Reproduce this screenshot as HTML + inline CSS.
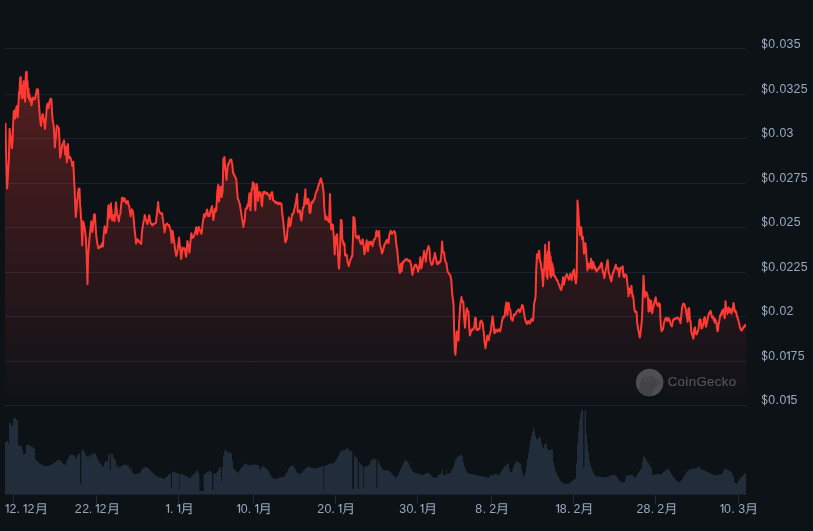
<!DOCTYPE html>
<html><head><meta charset="utf-8"><title>chart</title>
<style>
html,body{margin:0;padding:0;background:#0d1217;}
body{width:813px;height:531px;overflow:hidden;}
svg{display:block;will-change:transform;}
text{font-family:"Liberation Sans",sans-serif;}
</style></head><body>
<svg width="813" height="531" viewBox="0 0 813 531">
<defs><linearGradient id="g" gradientUnits="userSpaceOnUse" x1="0" y1="70" x2="0" y2="394"><stop offset="0" stop-color="#ff3a33" stop-opacity="0.30"/><stop offset="1" stop-color="#ff3a33" stop-opacity="0.015"/></linearGradient><clipPath id="c"><rect x="5" y="40" width="741" height="354"/></clipPath><clipPath id="cg"><circle cx="649.65" cy="382.55" r="13.75"/></clipPath></defs>
<rect width="813" height="531" fill="#0d1217"/>
<rect x="5" y="48" width="741" height="1" fill="#1c2330"/>
<rect x="5" y="94" width="741" height="1" fill="#1c2330"/>
<rect x="5" y="138" width="741" height="1" fill="#1c2330"/>
<rect x="5" y="183" width="741" height="1" fill="#1c2330"/>
<rect x="5" y="227" width="741" height="1" fill="#1c2330"/>
<rect x="5" y="272" width="741" height="1" fill="#1c2330"/>
<rect x="5" y="316" width="741" height="1" fill="#1c2330"/>
<rect x="5" y="361" width="741" height="1" fill="#1c2330"/>
<rect x="5" y="405" width="741" height="1" fill="#1c2330"/>
<g clip-path="url(#c)"><path d="M5,394 L5,124 L5.5,123.72 L6,149.44 L6.37,163.07 L6.73,174.98 L7.1,188.56 L7.46,182.59 L7.82,176.39 L8.18,171.41 L8.54,164.96 L8.9,159.89 L9.25,144.06 L9.6,128.85 L9.95,131.88 L10.3,135.02 L10.64,136.6 L10.98,139.46 L11.32,142.8 L11.66,146.02 L12,148.12 L12.3,143.58 L12.6,140.26 L12.95,128.87 L13.3,120.56 L13.8,111.3 L14.13,110.78 L14.47,110.55 L14.8,110.84 L15.3,118.46 L15.6,113.7 L15.9,111.43 L16.2,108.33 L16.55,106.69 L16.9,106.11 L17.3,111.05 L17.7,117.14 L18.1,110.39 L18.5,104.43 L19,91.83 L19.4,97.7 L19.8,84.14 L20.3,77.43 L20.8,77.18 L21.2,93.47 L21.7,85.32 L22.2,98.59 L22.7,87.12 L23.2,94.04 L23.6,81.2 L24.1,97.37 L24.6,85.66 L25.1,101.77 L25.6,79.39 L26,72.37 L26.35,72.91 L26.7,71.94 L27.1,87.98 L27.5,81.26 L28,97.27 L28.5,88.42 L29,99.12 L29.5,94.6 L29.85,97.2 L30.2,101.31 L30.5,99.65 L30.8,98.13 L31.1,101.43 L31.4,105.54 L31.76,104.11 L32.12,101.76 L32.48,100.46 L32.84,97.9 L33.2,97.48 L33.56,97.85 L33.92,99.18 L34.28,99.27 L34.64,98.48 L35,99.23 L35.32,98.35 L35.63,95.25 L35.95,94.76 L36.27,92.5 L36.58,90.83 L36.9,89.14 L37.2,90.84 L37.5,89.31 L37.8,89.59 L38.1,89.94 L38.4,96.99 L38.7,100.99 L39.03,105.63 L39.35,109.62 L39.67,114.17 L40,117.77 L40.3,120.87 L40.6,122.47 L40.9,125.8 L41.27,122.33 L41.63,120.26 L42,117.1 L42.4,114.56 L42.8,114.02 L43.13,115.79 L43.47,117.43 L43.8,119.66 L44.1,122.24 L44.4,123.78 L44.7,125.48 L45,128.81 L45.4,124.04 L45.8,119.86 L46.13,116.55 L46.47,111.69 L46.8,107.04 L47.15,105.48 L47.5,103.82 L47.8,103.7 L48.1,107.09 L48.4,108.17 L48.8,106.15 L49.2,103.71 L49.5,101.87 L49.8,101.01 L50.1,99.42 L50.4,99.82 L50.73,98.62 L51.07,98.79 L51.4,99.3 L51.7,105.59 L52,112.42 L52.35,116.18 L52.7,120.5 L53,122.16 L53.3,123.34 L53.6,125.27 L53.95,128.86 L54.3,135.3 L54.8,147.47 L55.17,143.09 L55.53,140.07 L55.9,137.03 L56.23,132.81 L56.57,127.96 L56.9,125.44 L57.23,126.78 L57.57,126.52 L57.9,127.56 L58.23,127.24 L58.57,127.91 L58.9,129.12 L59.4,138.84 L59.8,149.64 L60.2,157.76 L60.53,155.46 L60.85,154.87 L61.17,152.12 L61.5,149.43 L61.83,148.17 L62.17,145.44 L62.5,144.34 L62.88,144.19 L63.25,143.13 L63.62,141.99 L64,140.42 L64.3,144.01 L64.6,147.12 L64.9,151.51 L65.2,154.55 L65.6,151.2 L66,146.45 L66.3,150.68 L66.6,157.13 L66.9,162.25 L67.23,155.93 L67.57,149.88 L67.9,144.02 L68.25,151.27 L68.6,157.13 L68.95,158.18 L69.3,157.79 L69.65,156.87 L70,156.99 L70.35,158.17 L70.7,158.48 L71.05,160.24 L71.4,161.46 L71.7,161.33 L72,164.4 L72.3,166.06 L72.63,165.36 L72.97,162.87 L73.3,161.81 L73.8,173.63 L74.2,181.28 L74.6,189.05 L74.9,197.15 L75.2,204.78 L75.5,211.34 L75.8,216.93 L76.17,213.19 L76.55,209.36 L76.92,202.77 L77.3,200.31 L77.63,197.84 L77.97,194.17 L78.3,190.8 L78.6,189.75 L78.9,188.62 L79.2,190.4 L79.5,188.76 L79.8,197.36 L80.1,205.01 L80.42,207.79 L80.75,212.43 L81.08,218.8 L81.4,222.72 L81.8,232.94 L82.2,245.4 L82.6,232.79 L83,221.35 L83.35,222.42 L83.7,222.58 L84.05,224.9 L84.4,226.37 L84.73,228.63 L85.05,230.91 L85.38,234 L85.7,236.11 L86.03,242.02 L86.37,249.65 L86.7,255.24 L87.1,269.29 L87.5,284.19 L87.8,269.14 L88.1,255.59 L88.42,251.57 L88.75,246.64 L89.08,242.75 L89.4,238.87 L89.76,235.34 L90.12,232.46 L90.48,228.49 L90.84,225.31 L91.2,221.41 L91.5,225.11 L91.8,226.67 L92.1,229.28 L92.4,231.93 L92.72,229.01 L93.04,224.79 L93.36,222.15 L93.68,218.04 L94,214.65 L94.3,214.77 L94.6,214.1 L94.9,214.9 L95.2,219.32 L95.5,223.86 L95.8,229.95 L96.1,233.78 L96.42,236.68 L96.75,239.51 L97.08,241.67 L97.4,243.72 L97.7,245.28 L98,246.59 L98.3,248.2 L98.6,248.37 L98.9,248.35 L99.2,247.1 L99.5,246.39 L99.8,246.44 L100.1,246.16 L100.4,246.4 L100.7,246.87 L101,247.26 L101.33,245.61 L101.65,244.98 L101.97,243.91 L102.3,243.02 L102.65,245.06 L103,246.42 L103.5,236.75 L103.8,233.89 L104.1,231.86 L104.4,228.69 L104.7,226.2 L105.03,227.86 L105.35,228.32 L105.67,230.35 L106,233.13 L106.3,231.87 L106.6,228.81 L106.9,227.81 L107.2,227.83 L107.5,220.89 L107.8,215.57 L108.1,209.24 L108.4,205.21 L108.73,210.49 L109.07,215.76 L109.4,218.46 L109.78,215.82 L110.15,211.33 L110.53,205.45 L110.9,203.35 L111.2,208.23 L111.5,210.61 L111.8,217.43 L112.1,220.39 L112.4,219.49 L112.7,219.82 L113,218.17 L113.3,214.98 L113.62,217.29 L113.95,219.05 L114.27,220.02 L114.6,221.09 L114.95,216.51 L115.3,212.77 L115.65,205.71 L116,202.36 L116.33,206.15 L116.67,209.02 L117,214.09 L117.32,215.87 L117.63,216.44 L117.95,215.99 L118.27,219.66 L118.58,219.97 L118.9,221.42 L119.28,217.14 L119.65,215.95 L120.03,214.24 L120.4,213.75 L120.72,209.73 L121.04,206.31 L121.36,203.58 L121.68,201.16 L122,197.81 L122.3,197.84 L122.6,198.59 L122.9,200.75 L123.2,201.11 L123.5,200.57 L123.8,198.84 L124.1,198.04 L124.4,198.3 L124.72,198.8 L125.03,199.15 L125.35,201.45 L125.67,201.88 L125.98,203.07 L126.3,202.83 L126.65,203.44 L127,201.56 L127.35,202.21 L127.7,200.93 L128.02,201.98 L128.34,203.56 L128.66,205.4 L128.98,205.59 L129.3,206.61 L129.62,209.69 L129.95,211.68 L130.28,213.93 L130.6,216.46 L130.9,214.43 L131.2,212.82 L131.5,211.15 L131.8,209.29 L132.1,210.62 L132.4,210.46 L132.7,211.4 L133,211.48 L133.32,215.48 L133.65,218.68 L133.98,222.78 L134.3,226.12 L134.66,230.49 L135.02,233.42 L135.38,236.06 L135.74,239.74 L136.1,243.7 L136.4,241.42 L136.7,241.61 L137,240.04 L137.3,239.19 L137.6,240.06 L137.9,239.68 L138.2,240.19 L138.5,240.8 L138.82,241.69 L139.13,241.08 L139.45,242.28 L139.77,242.5 L140.08,242.8 L140.4,242.85 L140.8,243.61 L141.2,243.99 L141.6,237.66 L142,231.11 L142.37,229.79 L142.73,226.61 L143.1,224.06 L143.42,222.1 L143.74,221.47 L144.06,219.67 L144.38,217.51 L144.7,215.05 L145.07,216.39 L145.45,217.87 L145.82,219.54 L146.2,220.45 L146.5,221.51 L146.8,221.82 L147.1,223.54 L147.4,224.16 L147.76,221.88 L148.12,219.79 L148.48,219.35 L148.84,216.7 L149.2,215.17 L149.52,216.45 L149.85,218.91 L150.18,220.91 L150.5,222.8 L150.86,222.94 L151.22,224.05 L151.58,223.87 L151.94,224.9 L152.3,225.24 L152.66,225.36 L153.02,224.41 L153.38,224 L153.74,224.07 L154.1,223.57 L154.42,223.84 L154.73,223.45 L155.05,223.5 L155.37,223.05 L155.68,222.85 L156,222.81 L156.3,219.22 L156.6,216.32 L156.9,214.58 L157.2,210.44 L157.5,208.59 L157.8,205.7 L158.1,201.97 L158.43,206 L158.77,208.86 L159.1,211.2 L159.4,212 L159.7,212.75 L160,212.3 L160.3,213.54 L160.66,213.39 L161.02,213.8 L161.38,213.63 L161.74,213.54 L162.1,213.03 L162.43,216.2 L162.77,218.53 L163.1,221.21 L163.47,223.39 L163.85,226 L164.22,229.09 L164.6,232.38 L164.9,229.97 L165.2,229.14 L165.5,226.69 L165.8,224.8 L166.12,224.7 L166.43,224.69 L166.75,224.28 L167.07,223.41 L167.38,224.58 L167.7,224.4 L168.06,224.5 L168.42,225.06 L168.78,225.75 L169.14,225.31 L169.5,226.88 L169.82,227.48 L170.15,228.57 L170.48,230.25 L170.8,232.37 L171.1,234.83 L171.4,238.98 L171.7,242.66 L172,238.19 L172.3,234.31 L172.6,230.77 L172.9,233.24 L173.2,235.53 L173.5,237.44 L173.8,239.63 L174.12,241.2 L174.45,243.79 L174.78,246.43 L175.1,249.69 L175.4,250.84 L175.7,253.11 L176,254.07 L176.3,256 L176.6,254.78 L176.9,253.88 L177.2,252.36 L177.5,250.78 L177.82,247.71 L178.14,245.61 L178.46,243.06 L178.78,240.61 L179.1,237.59 L179.4,241.6 L179.7,243.27 L180,247.29 L180.3,250 L180.6,251.59 L180.9,255.37 L181.2,259.01 L181.5,256.62 L181.8,253.17 L182.1,250.25 L182.4,247.54 L182.72,249.04 L183.05,248.19 L183.38,249.11 L183.7,248.73 L184,249.16 L184.3,249.67 L184.6,248.19 L184.9,249.11 L185.2,250.79 L185.5,253.57 L185.8,255.45 L186.1,256.87 L186.43,254.09 L186.75,249.58 L187.07,244.99 L187.4,241.11 L187.7,242.81 L188,243.67 L188.3,244.36 L188.6,245.03 L189,249.05 L189.4,252.71 L189.73,249.84 L190.07,244.8 L190.4,242.3 L190.73,239.34 L191.07,235.09 L191.4,233.28 L191.7,234.81 L192,236.98 L192.3,237.86 L192.66,237.5 L193.02,237.03 L193.38,237.5 L193.74,236.34 L194.1,235.48 L194.43,234.66 L194.75,233.49 L195.07,232.2 L195.4,231.36 L195.7,230.7 L196,227.99 L196.3,227.2 L196.6,228.77 L196.9,231.46 L197.2,234.52 L197.52,232.4 L197.84,231.1 L198.16,230.43 L198.48,228.71 L198.8,227 L199.18,227.78 L199.55,229.31 L199.93,230.43 L200.3,230.88 L200.6,231.93 L200.9,231.63 L201.2,233.5 L201.5,233.82 L201.8,231.68 L202.1,228.88 L202.4,225.68 L202.7,222.68 L203.02,221.93 L203.35,218.5 L203.68,216.91 L204,214.3 L204.3,214.45 L204.6,216.16 L204.9,217.22 L205.2,215.23 L205.56,215.4 L205.92,213.16 L206.28,212.88 L206.64,211.26 L207,209.44 L207.32,210.79 L207.65,212.32 L207.98,215.92 L208.3,215.99 L208.66,214.6 L209.02,216.3 L209.38,216.09 L209.74,213.84 L210.1,212.35 L210.42,211.4 L210.73,209.96 L211.05,209.64 L211.37,207.72 L211.68,207.08 L212,206.03 L212.35,210.4 L212.7,214.79 L213.05,217.72 L213.4,220.02 L213.72,217.4 L214.05,215.13 L214.38,212.03 L214.7,209.28 L215.02,208.54 L215.34,209.37 L215.66,211.72 L215.98,209.16 L216.3,210.51 L216.7,202.81 L217.1,195.46 L217.4,191.07 L217.7,188.92 L218,186.52 L218.3,184.68 L218.65,192.33 L219,201.45 L219.36,198.32 L219.72,195.59 L220.08,190.07 L220.44,187.3 L220.8,186.67 L221.15,192.77 L221.5,196.91 L221.87,195.61 L222.23,192.87 L222.6,191.83 L223,175.68 L223.4,158.52 L223.73,158.34 L224.07,158.29 L224.4,156.9 L224.7,161.02 L225,165.45 L225.4,169.04 L225.8,172.29 L226.15,176.46 L226.5,179.85 L226.83,175.64 L227.17,171.72 L227.5,167.13 L227.82,166.28 L228.14,164.46 L228.46,164.65 L228.78,162.77 L229.1,162.87 L229.42,161.93 L229.73,160.89 L230.05,160.1 L230.37,159.8 L230.68,159.92 L231,159.52 L231.3,159.65 L231.6,160.66 L231.9,162.46 L232.2,163.63 L232.5,166.59 L232.8,169.59 L233.1,173.46 L233.46,173.02 L233.82,173.98 L234.18,174.74 L234.54,176.03 L234.9,176.03 L235.22,177.39 L235.54,177.72 L235.86,178.32 L236.18,179.32 L236.5,181.44 L236.8,187.73 L237.1,190.79 L237.4,194.03 L237.7,198.5 L238.02,199.52 L238.34,199.85 L238.66,200.33 L238.98,201.73 L239.3,202.88 L239.6,203.29 L239.9,204.5 L240.2,206.52 L240.5,208.17 L240.82,210.77 L241.15,212.17 L241.48,215.3 L241.8,217.38 L242.12,218.91 L242.44,220.33 L242.76,223.45 L243.08,224.3 L243.4,227.01 L243.7,224.59 L244,223.1 L244.3,222.49 L244.6,220.27 L244.9,217.66 L245.2,213.26 L245.5,209.1 L245.86,208.54 L246.22,208.09 L246.58,208.27 L246.94,208.56 L247.3,205.37 L247.6,205.53 L247.9,204.33 L248.2,206.14 L248.5,202.85 L248.83,199.07 L249.17,195.59 L249.5,193.16 L249.8,200.11 L250.1,205.39 L250.4,210.24 L250.77,205.26 L251.13,199.21 L251.5,191.45 L251.82,188.92 L252.15,189.24 L252.48,186.56 L252.8,182.2 L253.12,184.38 L253.45,183.61 L253.78,183.75 L254.1,183.76 L254.4,189.87 L254.7,195.96 L255,203.47 L255.3,210.32 L255.6,205.81 L255.9,196.7 L256.2,192.94 L256.5,184.06 L256.9,185.04 L257.3,187.03 L257.7,194.53 L258.1,200.78 L258.43,197.38 L258.75,196.57 L259.07,194.07 L259.4,193.64 L259.75,191.94 L260.1,193.12 L260.45,195.45 L260.8,193.3 L261.12,197.74 L261.45,202.25 L261.78,205.33 L262.1,206.23 L262.4,201.31 L262.7,196.5 L263,194.34 L263.38,191.97 L263.75,193.29 L264.12,192.89 L264.5,191.74 L264.82,191.89 L265.13,193.23 L265.45,192.94 L265.77,192.62 L266.08,193.6 L266.4,193.21 L266.76,193.2 L267.12,192.83 L267.48,194.09 L267.84,194.41 L268.2,194.01 L268.52,195.29 L268.83,194.61 L269.15,195.72 L269.47,196.89 L269.78,198.45 L270.1,199.23 L270.4,196.94 L270.7,195.35 L271,194.26 L271.3,192.99 L271.63,193.45 L271.97,192.03 L272.3,192.78 L272.7,196.38 L273.1,200.22 L273.43,200.59 L273.75,200.77 L274.07,200.77 L274.4,201.21 L274.76,201.54 L275.12,202.47 L275.48,201.61 L275.84,202.06 L276.2,203.2 L276.52,202.5 L276.83,202.3 L277.15,202.35 L277.47,203.28 L277.78,203.02 L278.1,204.17 L278.46,204.01 L278.82,204.18 L279.18,203.02 L279.54,202.73 L279.9,202.75 L280.22,203.52 L280.54,203.98 L280.86,203.68 L281.18,203.45 L281.5,203.87 L281.8,208.19 L282.1,212.28 L282.4,214.86 L282.7,217.49 L283,219.66 L283.33,222.06 L283.67,226.48 L284,228.87 L284.4,233.66 L284.8,237.7 L285.1,240.73 L285.4,242.32 L285.72,241.45 L286.05,240.49 L286.38,239.4 L286.7,239.61 L287,235.86 L287.3,232.19 L287.6,229.03 L287.93,226.94 L288.25,223.11 L288.57,219.62 L288.9,217.49 L289.2,219.55 L289.5,222.39 L289.8,223.26 L290.1,226.16 L290.4,225.28 L290.7,223.88 L291,222.56 L291.3,219.31 L291.6,217.87 L291.9,215.74 L292.2,214 L292.52,214.76 L292.84,213.63 L293.16,213.69 L293.48,212.3 L293.8,212.59 L294.1,210.39 L294.4,208.57 L294.7,207.87 L295,206.61 L295.3,204.04 L295.6,203.59 L295.9,202.39 L296.2,199.9 L296.5,198.29 L296.8,196.08 L297.1,193.91 L297.4,202.06 L297.7,211.1 L298.03,212.05 L298.37,211.51 L298.7,211.73 L299,212.08 L299.3,212.53 L299.6,210.46 L299.9,210.24 L300.27,212.69 L300.65,217.24 L301.02,219.27 L301.4,220.59 L301.72,217.6 L302.05,215.39 L302.38,212.75 L302.7,209.92 L303,207.37 L303.3,206.69 L303.6,207.39 L303.9,205.63 L304.27,201.22 L304.65,197.27 L305.02,195.18 L305.4,189.24 L305.75,197.4 L306.1,204.17 L306.48,203.27 L306.85,203.54 L307.23,202.86 L307.6,199.89 L308,198.74 L308.4,199.68 L308.73,202.04 L309.07,205.38 L309.4,212 L309.7,211.17 L310,212.96 L310.3,212.32 L310.6,211.45 L310.9,207.88 L311.2,204.69 L311.5,201.94 L311.82,203.17 L312.14,202.87 L312.46,202.92 L312.78,201.22 L313.1,201.7 L313.42,200.69 L313.74,200.31 L314.06,199.13 L314.38,198.75 L314.7,198.53 L315,197.63 L315.3,194.77 L315.6,193.83 L315.9,192.79 L316.22,192.42 L316.55,190.57 L316.88,189.83 L317.2,190.51 L317.55,189.34 L317.9,187.32 L318.25,185.41 L318.6,185.58 L318.93,183.8 L319.25,183.7 L319.57,182.32 L319.9,181.72 L320.2,179.98 L320.5,180.31 L320.8,178.73 L321.1,178.35 L321.48,180.68 L321.85,182.28 L322.23,182.87 L322.6,184.55 L322.93,187.27 L323.27,189.9 L323.6,192.11 L323.9,199.1 L324.2,206.7 L324.5,210.53 L324.8,213.89 L325.1,215.59 L325.4,219.5 L325.7,219.21 L326,217.46 L326.3,218.14 L326.6,216.39 L326.93,218.06 L327.25,218.88 L327.57,219.9 L327.9,220.29 L328.2,220.8 L328.5,221.38 L328.8,221.46 L329.1,222.15 L329.4,212.78 L329.7,203.73 L330,194.04 L330.35,208.54 L330.7,221.88 L331,225.03 L331.3,229.42 L331.68,228.35 L332.05,226.73 L332.43,225.19 L332.8,224.56 L333.1,227.74 L333.4,231.54 L333.7,235.79 L334.03,240.92 L334.37,248.07 L334.7,254.43 L335,248.49 L335.3,245.53 L335.6,239.36 L335.9,236.55 L336.2,236.53 L336.5,235.63 L336.8,234.2 L337.1,235.31 L337.43,241.72 L337.77,250.1 L338.1,254.58 L338.4,260.73 L338.7,265.26 L339,268.65 L339.33,263.55 L339.67,256.48 L340,253.35 L340.4,235.33 L340.8,219.98 L341.1,220.96 L341.4,219.96 L341.7,222.81 L342,232.01 L342.3,238.38 L342.6,240.11 L342.9,242.17 L343.2,241.42 L343.5,244.41 L343.83,243.07 L344.17,244.98 L344.5,243.5 L344.8,249.46 L345.1,255.58 L345.42,253.82 L345.74,254.22 L346.06,255.13 L346.38,255.07 L346.7,254.86 L347,257.16 L347.3,259.19 L347.6,262.5 L347.9,263.06 L348.2,264.38 L348.5,264.19 L348.8,266.16 L349.12,263.78 L349.45,263.15 L349.78,262.02 L350.1,260.28 L350.4,260.35 L350.7,259.09 L351,258.38 L351.3,258.11 L351.63,256.23 L351.97,257.02 L352.3,255.81 L352.6,247.43 L352.9,240.08 L353.4,217.12 L353.73,218.45 L354.07,217.96 L354.4,217.78 L354.7,221.22 L355,223.51 L355.3,229.23 L355.6,236.29 L355.9,235.65 L356.2,237.36 L356.5,236.93 L356.8,238.02 L357.12,238.36 L357.43,237.5 L357.75,237.41 L358.07,236.63 L358.38,235.92 L358.7,235.75 L359,237.19 L359.3,239.19 L359.6,240.14 L359.9,241.52 L360.22,242.73 L360.54,242.11 L360.86,242.86 L361.18,244.14 L361.5,243.74 L361.8,242.48 L362.1,241.82 L362.4,240.2 L362.7,239.37 L363,241.23 L363.3,243.87 L363.6,245.94 L363.9,248.19 L364.2,251.73 L364.5,254.36 L364.8,252.27 L365.1,252 L365.4,249.34 L365.7,247.64 L366.03,244.69 L366.37,242.69 L366.7,240.19 L367,243.15 L367.3,245.64 L367.6,248.52 L367.9,251.22 L368.2,249.61 L368.5,246.85 L368.8,243.89 L369.1,241.73 L369.43,242.16 L369.75,243.7 L370.07,244.12 L370.4,244.1 L370.7,244.15 L371,241.77 L371.3,241.55 L371.62,242.42 L371.95,243.23 L372.28,244.02 L372.6,246.25 L372.9,243.62 L373.2,243.08 L373.5,242.31 L373.8,239.63 L374.18,239.27 L374.55,239.47 L374.93,238.86 L375.3,238.63 L375.6,237.05 L375.9,234.18 L376.2,232.55 L376.5,230.68 L376.82,231.53 L377.15,234.12 L377.48,235.2 L377.8,236.34 L378.15,233.96 L378.5,234.05 L378.85,232.64 L379.2,230.94 L379.5,238.14 L379.8,244.42 L380.13,245.29 L380.47,246.34 L380.8,247.77 L381.1,248.71 L381.4,250.44 L381.7,252.35 L382,253.51 L382.32,252.83 L382.65,251.69 L382.98,250.05 L383.3,249.59 L383.6,248.15 L383.9,247.46 L384.2,245.79 L384.5,244.12 L384.86,244.13 L385.22,244.04 L385.58,242.25 L385.94,242.71 L386.3,240.72 L386.62,240.49 L386.95,239.83 L387.28,240.02 L387.6,239.71 L388,241.54 L388.4,243.02 L388.73,241.04 L389.07,237.29 L389.4,234.28 L389.7,234.28 L390,232.76 L390.3,231.78 L390.6,230.66 L390.93,231.94 L391.25,231.9 L391.57,233.27 L391.9,233.82 L392.2,233.75 L392.5,232.75 L392.8,232.88 L393.1,232.31 L393.42,231.77 L393.74,231.5 L394.06,232.04 L394.38,231.04 L394.7,232.26 L395,232.66 L395.3,234.11 L395.6,235.87 L396,241.84 L396.4,245.55 L396.73,247.29 L397.07,249.18 L397.4,251.27 L397.73,255.97 L398.07,259.55 L398.4,263.32 L398.7,265.85 L399,267.24 L399.3,270.54 L399.6,271.28 L399.9,273.11 L400.2,270.71 L400.5,268.43 L400.8,264.71 L401.1,263.59 L401.4,267.36 L401.7,271.11 L402,267.77 L402.3,265.93 L402.6,263.78 L402.9,261.66 L403.23,262.59 L403.57,262.17 L403.9,261.51 L404.23,261.45 L404.57,260.78 L404.9,259.86 L405.22,259.46 L405.53,259.36 L405.85,260.31 L406.17,259.33 L406.48,259.41 L406.8,259.48 L407.16,259.09 L407.52,259.73 L407.88,260.03 L408.24,260.99 L408.6,260.69 L408.98,260.44 L409.35,261.29 L409.73,260.38 L410.1,260.76 L410.43,262.26 L410.77,263.18 L411.1,265.66 L411.43,267.87 L411.75,270.59 L412.07,272.08 L412.4,274.83 L412.75,272.99 L413.1,270.9 L413.45,270.35 L413.8,267.55 L414.12,267.99 L414.44,266.23 L414.76,265.24 L415.08,264.84 L415.4,265.02 L415.7,265.66 L416,264.41 L416.3,265.49 L416.6,265.79 L416.92,267.37 L417.24,267.5 L417.56,269.09 L417.88,269.96 L418.2,271.83 L418.5,269.54 L418.8,269.26 L419.1,266.83 L419.4,265.34 L419.7,263.45 L420,260.46 L420.3,257.18 L420.63,261.42 L420.97,263.93 L421.3,268.46 L421.6,266.82 L421.9,265.46 L422.2,263.7 L422.5,261.77 L422.88,259.24 L423.25,256.63 L423.62,254.82 L424,250.94 L424.33,253.69 L424.67,253.77 L425,255.53 L425.4,258.07 L425.8,261.54 L426.13,258 L426.47,254.91 L426.8,252.81 L427.14,250.43 L427.48,249.46 L427.82,248.23 L428.16,247.25 L428.5,245.9 L428.83,247.17 L429.17,248.12 L429.5,249.52 L429.8,254.15 L430.1,260.15 L430.43,261.11 L430.75,262.49 L431.07,262.82 L431.4,264.5 L431.7,264.89 L432,264.43 L432.3,263.55 L432.6,263.94 L432.9,263.22 L433.2,260.78 L433.5,259.31 L433.8,258.08 L434.13,257.09 L434.47,255.68 L434.8,252.95 L435.17,254.58 L435.53,256.36 L435.9,258.12 L436.23,260.3 L436.57,261.59 L436.9,263.72 L437.26,263.24 L437.62,264.24 L437.98,263.59 L438.34,262.32 L438.7,263.44 L439.02,261.76 L439.33,261.91 L439.65,262.57 L439.97,261.97 L440.28,261.57 L440.6,260.8 L440.9,257.95 L441.2,256.19 L441.5,252.87 L441.8,247.18 L442.1,241.62 L442.45,245.65 L442.8,250.84 L443.1,251.77 L443.4,251.91 L443.7,251.9 L444,252.41 L444.3,254.61 L444.6,256.56 L444.9,259.77 L445.22,260.19 L445.54,261.47 L445.86,262.47 L446.18,262.45 L446.5,263.42 L446.8,266.17 L447.1,268.11 L447.4,270.27 L447.7,271.53 L448,272.26 L448.3,272.56 L448.6,272.92 L448.96,273.76 L449.32,274.09 L449.68,274.63 L450.04,274.93 L450.4,275.3 L450.73,277.87 L451.07,279.09 L451.4,281.67 L451.7,286.62 L452,290.87 L452.3,295.11 L452.6,296.85 L452.9,299.48 L453.2,301.88 L453.5,304.49 L453.8,316.5 L454.1,329.28 L454.45,340.74 L454.8,350.59 L455.1,352.9 L455.4,354.65 L455.7,350.02 L456,346.18 L456.3,340.16 L456.6,331.86 L456.9,332.27 L457.2,331.26 L457.5,331.85 L457.83,335.4 L458.17,338.03 L458.5,340.66 L458.8,332.17 L459.1,322.87 L459.4,318.52 L459.7,313.57 L460,309.15 L460.3,304.83 L460.6,302.63 L460.9,300.76 L461.2,299.92 L461.5,297.04 L461.8,299.03 L462.1,299.79 L462.4,301.62 L462.73,301.03 L463.07,302.84 L463.4,302.27 L463.7,308.84 L464,316.24 L464.33,320.14 L464.67,323.22 L465,327.57 L465.4,322.02 L465.8,316.92 L466.13,313.7 L466.47,310.89 L466.8,308.16 L467.1,309.82 L467.4,310.97 L467.7,311.14 L468.1,310.95 L468.5,312.18 L468.9,320.18 L469.3,328.54 L469.6,331.46 L469.9,335.54 L470.27,334.37 L470.65,332.86 L471.02,331.38 L471.4,330.3 L471.72,329.52 L472.04,330.46 L472.36,329.25 L472.68,329.46 L473,329.51 L473.3,329.18 L473.6,328.3 L473.9,327.7 L474.2,327.78 L474.5,323.83 L474.8,321.7 L475.1,317.67 L475.45,318.76 L475.8,318.13 L476.15,324.15 L476.5,329.81 L476.82,329.96 L477.14,329.46 L477.46,329.04 L477.78,330.07 L478.1,329.25 L478.43,329.04 L478.75,328.98 L479.07,329.12 L479.4,328.89 L479.7,326.75 L480,324.32 L480.3,321.38 L480.68,322.14 L481.05,321.87 L481.43,320.44 L481.8,321.52 L482.13,322.65 L482.47,323.45 L482.8,323.42 L483.1,327.4 L483.4,329.95 L483.7,331.82 L484.1,336.17 L484.5,342.02 L484.83,344.08 L485.17,345.97 L485.5,348.26 L485.83,345.8 L486.17,343.41 L486.5,341.74 L486.8,338.99 L487.1,336.61 L487.4,335.75 L487.7,336.79 L488,337.02 L488.3,339.4 L488.6,340.17 L488.9,338.93 L489.2,337.22 L489.5,336.06 L489.8,334.36 L490.1,333.61 L490.4,331.75 L490.7,331.71 L491.03,328.58 L491.37,326.05 L491.7,322.7 L492,321.35 L492.3,318.75 L492.6,316.22 L492.9,318.64 L493.2,320.96 L493.5,323.99 L493.8,326.59 L494.1,330.55 L494.4,333.33 L494.72,333.15 L495.04,332.42 L495.36,331.74 L495.68,331.52 L496,329.41 L496.3,331.05 L496.6,330.75 L496.9,331.2 L497.2,331.66 L497.5,331.49 L497.8,330.3 L498.1,329.92 L498.4,330.34 L498.72,329.28 L499.04,330.54 L499.36,330.9 L499.68,330.29 L500,331.58 L500.37,330.06 L500.73,328.82 L501.1,326.23 L501.43,325.2 L501.77,322.38 L502.1,320.28 L502.4,320.01 L502.7,317.7 L503,317.87 L503.3,316.8 L503.62,316.34 L503.95,317.18 L504.28,316.39 L504.6,316.56 L505,312.34 L505.4,308.43 L505.73,305.7 L506.07,304.23 L506.4,302.38 L506.73,306.89 L507.07,311.62 L507.4,315.07 L507.7,312.82 L508,309.05 L508.3,306.11 L508.6,302.63 L508.9,304.68 L509.2,307.09 L509.5,308.25 L509.8,309.3 L510.1,309.4 L510.4,310.21 L510.75,314.18 L511.1,318.64 L511.48,319.17 L511.85,319.85 L512.23,319.11 L512.6,320.66 L512.9,319.69 L513.2,317.92 L513.5,315.9 L513.8,315.08 L514.16,314.23 L514.52,314.14 L514.88,314.93 L515.24,314.05 L515.6,313.75 L515.92,313.36 L516.24,312.96 L516.56,311.88 L516.88,311.29 L517.2,310.7 L517.58,310.64 L517.95,310.3 L518.33,310.26 L518.7,309.34 L519.08,310.69 L519.45,310.98 L519.83,312.1 L520.2,311.66 L520.52,310.43 L520.84,308.84 L521.16,308.66 L521.48,307.52 L521.8,305.75 L522.1,305.09 L522.4,305.62 L522.7,305.36 L523,306.87 L523.3,308.25 L523.6,310.18 L523.93,312.41 L524.27,314.28 L524.6,316.49 L524.97,318.49 L525.33,320.63 L525.7,320.89 L526.03,322.51 L526.37,322.46 L526.7,323.39 L527,323.9 L527.3,322.92 L527.6,322.87 L527.9,321.51 L528.23,320.97 L528.55,321.72 L528.88,322.2 L529.2,322.9 L529.6,323.57 L530,323.36 L530.33,322.18 L530.65,320.61 L530.97,320.41 L531.3,318.64 L531.63,319.38 L531.97,319.99 L532.3,320.81 L532.6,321.06 L532.9,319.33 L533.2,319.85 L533.5,313.51 L533.8,309.82 L534.1,303.71 L534.4,302 L534.7,301.6 L535,299.31 L535.3,298.57 L535.7,293.6 L536.2,270.28 L536.55,263.69 L536.9,254.27 L537.2,256.81 L537.5,258.39 L537.8,258.1 L538.12,257.46 L538.45,255.15 L538.77,251.66 L539.1,250.76 L539.5,253.51 L539.9,261.27 L540.23,262.23 L540.55,261.54 L540.88,263.4 L541.2,267.54 L541.5,269.78 L541.8,268.75 L542.1,271.22 L542.4,277.06 L542.7,279.36 L543,286.2 L543.33,280.52 L543.67,274.65 L544,271.42 L544.3,267.22 L544.6,261.78 L544.9,254.69 L545.2,244.82 L545.7,269.07 L546.1,254.51 L546.6,276.52 L547,258.47 L547.5,278.7 L547.9,251.59 L548.4,263.03 L548.9,241.9 L549.3,269.02 L549.7,252.24 L550.2,275.25 L550.6,256.42 L551,277.31 L551.5,261.73 L552,275.18 L552.4,263.9 L552.9,272.38 L553.3,267.72 L553.8,275.59 L554.12,275.08 L554.43,275.13 L554.75,275.84 L555.07,277.09 L555.38,276.79 L555.7,277.8 L556.06,278.4 L556.42,279.61 L556.78,280.21 L557.14,280.11 L557.5,280.4 L557.82,281.54 L558.13,282.51 L558.45,283.49 L558.77,284.57 L559.08,285.4 L559.4,284.77 L559.76,287.01 L560.12,287.96 L560.48,289.03 L560.84,289.54 L561.2,290.04 L561.53,288.9 L561.87,286.76 L562.2,284.5 L562.6,281.51 L563,277.25 L563.33,279.07 L563.67,282.05 L564,284.68 L564.33,282.05 L564.65,281.25 L564.97,279.87 L565.3,277.07 L565.65,276.9 L566,276.23 L566.35,275.12 L566.7,273.93 L567.03,274.78 L567.35,276.35 L567.67,277.19 L568,277.44 L568.33,277.44 L568.67,279.19 L569,279.74 L569.3,277.35 L569.6,276.38 L569.9,275.36 L570.2,273.82 L570.58,275.06 L570.95,276.81 L571.33,278.82 L571.7,280 L572,277.86 L572.3,275.69 L572.6,274.37 L572.9,271.68 L573.2,271.55 L573.5,270.84 L573.8,270.58 L574.1,269.54 L574.43,272.44 L574.77,277.03 L575.1,279.1 L575.4,279.9 L575.7,281.98 L576,283.46 L576.35,278.75 L576.7,275.76 L577,246.75 L577.5,200.53 L577.83,204.23 L578.17,208.75 L578.5,214.78 L578.9,220.59 L579.3,225.98 L579.65,231.11 L580,235.28 L580.3,234.46 L580.6,231.03 L580.9,230.21 L581.2,227.3 L581.6,232.96 L582,238.89 L582.33,236.93 L582.67,236.45 L583,237.1 L583.33,242.71 L583.67,248.08 L584,253.65 L584.35,251.87 L584.7,249.51 L585.05,244.97 L585.4,243.14 L585.73,247.76 L586.07,249.96 L586.4,256.29 L586.73,260.03 L587.07,263.53 L587.4,270.38 L587.7,266.55 L588,265.74 L588.3,264.25 L588.6,263.47 L588.9,264.64 L589.2,265.85 L589.5,268.05 L589.82,265.58 L590.14,266.4 L590.46,264.88 L590.78,260.97 L591.1,258.82 L591.4,261.93 L591.7,264.69 L592,268.81 L592.35,267.29 L592.7,265.56 L593.05,261.67 L593.4,262.36 L593.73,263.96 L594.07,265.61 L594.4,268.46 L594.7,266.14 L595,266.88 L595.3,269.19 L595.6,270.22 L595.92,269.91 L596.24,269.26 L596.56,270.61 L596.88,271.59 L597.2,270.12 L597.58,270.17 L597.95,269.37 L598.33,268.37 L598.7,268.84 L599.03,267.43 L599.35,267.17 L599.67,266.4 L600,267.53 L600.36,265.36 L600.72,265.63 L601.08,263.93 L601.44,262.82 L601.8,263.38 L602.1,264.92 L602.4,268.73 L602.7,271.29 L603.02,272.68 L603.34,272.84 L603.66,274.7 L603.98,275.5 L604.3,278.19 L604.6,276.35 L604.9,274.31 L605.2,272.32 L605.5,270.44 L605.8,269.99 L606.1,268.21 L606.4,267.23 L606.7,265.23 L607.03,263.29 L607.37,260.96 L607.7,259.94 L608,263.79 L608.3,267.23 L608.6,272.49 L608.95,272.78 L609.3,274.26 L609.65,275.1 L610,276.53 L610.33,278.59 L610.65,278.94 L610.97,279.82 L611.3,281.49 L611.65,279.21 L612,278.15 L612.35,274.88 L612.7,274.27 L613.02,272.07 L613.34,272.69 L613.66,271.61 L613.98,270.16 L614.3,269.86 L614.67,268.31 L615.05,267.01 L615.42,265.67 L615.8,264.68 L616.12,266.76 L616.45,267.85 L616.77,268.81 L617.1,268.56 L617.42,268.71 L617.75,269.53 L618.08,268.04 L618.4,268.96 L618.8,271.97 L619.2,276.77 L619.53,273.38 L619.85,272.79 L620.17,270.2 L620.5,268.02 L620.8,267.65 L621.1,268.83 L621.4,268.19 L621.7,267.5 L622.03,267.5 L622.37,267.86 L622.7,266.35 L623,271.51 L623.3,275.42 L623.6,275.82 L623.9,277.1 L624.2,277.34 L624.5,275.81 L624.8,274.93 L625.1,274.24 L625.4,274.37 L625.7,274.64 L626,274.74 L626.3,275.08 L626.6,276.18 L626.9,279.2 L627.2,282.23 L627.5,284.73 L627.83,287.82 L628.17,290.78 L628.5,296.35 L628.8,293.44 L629.1,292.32 L629.4,288.46 L629.7,288.57 L630.03,288.67 L630.37,291.52 L630.7,293.02 L631.1,289.53 L631.5,285.74 L631.83,291.12 L632.17,292.77 L632.5,296.74 L632.8,295.45 L633.1,295.62 L633.4,297.83 L633.75,301.73 L634.1,306.36 L634.4,308.57 L634.7,310.83 L635,310.81 L635.32,312.26 L635.64,312.05 L635.96,312.24 L636.28,311.59 L636.6,312.54 L636.9,318.26 L637.2,323.88 L637.53,324.86 L637.85,327.34 L638.17,328.66 L638.5,331.1 L638.85,331.7 L639.2,334.7 L639.55,336.53 L639.9,337.49 L640.23,334.9 L640.55,332.3 L640.88,329.68 L641.2,326.23 L641.5,324.48 L641.8,320.02 L642.1,316.69 L642.4,307.76 L642.7,299.2 L643,291.31 L643.5,275.85 L643.85,282.4 L644.2,290.14 L644.5,290.99 L644.8,292.89 L645.1,297.22 L645.5,295.29 L645.9,293.27 L646.25,294 L646.6,292.23 L646.95,294.83 L647.3,294.49 L647.7,295.74 L648.1,299.39 L648.5,311.68 L648.8,308 L649.1,303.59 L649.4,299.39 L649.7,303.6 L650,306.04 L650.3,310.79 L650.6,308.36 L650.9,302.77 L651.2,300.83 L651.5,305.29 L651.8,307.33 L652.1,313.34 L652.4,312.33 L652.7,309.19 L653,307.92 L653.3,307.34 L653.6,305.59 L653.9,304.13 L654.2,303.76 L654.5,302.24 L654.83,300.47 L655.15,299.23 L655.47,298.31 L655.8,297.4 L656.1,300.14 L656.4,301.72 L656.7,303.76 L657.03,304.38 L657.35,305.21 L657.67,304.71 L658,306.23 L658.3,306.16 L658.6,305.34 L658.9,303.47 L659.2,302.98 L659.6,304.16 L660,304.58 L660.3,315.95 L660.8,325.11 L661.2,328.44 L661.6,331.31 L661.98,329.76 L662.35,329.17 L662.73,329.73 L663.1,328.64 L663.4,326.87 L663.7,324.35 L664,322.59 L664.33,321.94 L664.65,321.17 L664.97,319.03 L665.3,319.23 L665.6,318.33 L665.9,318.69 L666.2,317.74 L666.5,317.87 L666.8,319.71 L667.1,320.46 L667.4,321.1 L667.7,320.76 L668,319.84 L668.3,319.9 L668.6,318.06 L668.9,318.71 L669.2,319.89 L669.5,319.67 L669.8,321.05 L670.1,322.7 L670.4,323.07 L670.7,323.75 L671,325.15 L671.3,325.85 L671.6,325.84 L671.9,326.4 L672.23,324.38 L672.57,322.6 L672.9,320.75 L673.2,320.09 L673.5,319.54 L673.8,318.82 L674.1,319.07 L674.42,319.44 L674.73,318.98 L675.05,318.81 L675.37,318.84 L675.68,318.02 L676,318.74 L676.36,318.22 L676.72,318.24 L677.08,318.22 L677.44,317.87 L677.8,317.5 L678.17,317.84 L678.55,318.25 L678.92,319.17 L679.3,319.41 L679.6,320.51 L679.9,320.37 L680.2,321.69 L680.5,323.28 L680.83,319.21 L681.17,316.66 L681.5,313.49 L681.8,310.06 L682.1,308.08 L682.4,306.2 L682.7,306.19 L683,304.43 L683.3,303.51 L683.62,304.94 L683.95,304.4 L684.27,303.95 L684.6,304.62 L684.9,305.95 L685.2,307.68 L685.5,307.92 L685.8,309.36 L686.1,312.38 L686.4,313.88 L686.7,314.8 L687,316.94 L687.35,319.11 L687.7,321.78 L688,315.19 L688.3,309.06 L688.6,308.81 L688.9,308.13 L689.2,308.28 L689.55,314.14 L689.9,320.02 L690.3,320.81 L690.7,322.56 L691,327.33 L691.3,332.56 L691.62,332.23 L691.95,334.34 L692.27,333.88 L692.6,336.03 L693,337.29 L693.4,338.7 L693.8,334.84 L694.2,329.62 L694.6,328.12 L695,327.45 L695.33,330.06 L695.67,332.11 L696,333.94 L696.3,333.92 L696.6,333.64 L696.9,334.35 L697.2,332.41 L697.53,331.86 L697.85,331.56 L698.17,329.99 L698.5,328.82 L698.9,325.34 L699.3,320.33 L699.62,319.47 L699.95,319.74 L700.27,319.23 L700.6,320.16 L701,323.2 L701.4,328.49 L701.73,327.91 L702.05,325.43 L702.38,328 L702.7,325.13 L703,325.55 L703.3,323.98 L703.6,322.89 L703.9,318.48 L704.23,319.12 L704.57,320.76 L704.9,317.14 L705.23,319.75 L705.57,324.18 L705.9,326.39 L706.2,326.62 L706.5,324.69 L706.8,322.42 L707.1,322.79 L707.4,319.72 L707.7,318.47 L708,317.85 L708.3,315.48 L708.6,314.43 L708.9,314.41 L709.2,312.56 L709.5,313.9 L709.83,312.87 L710.15,312.3 L710.47,310.68 L710.8,311.72 L711.1,312.75 L711.4,314.28 L711.7,315.26 L712,317.34 L712.38,317.99 L712.75,316.5 L713.12,316.65 L713.5,317.67 L713.8,320.16 L714.1,318.75 L714.4,320.54 L714.7,322.7 L715.03,319.42 L715.37,319.14 L715.7,320.82 L716,322.07 L716.3,322.71 L716.6,323.02 L716.9,327.87 L717.2,328.95 L717.5,331.32 L717.83,330.56 L718.15,328.77 L718.47,325.6 L718.8,323.19 L719.1,321.64 L719.4,320.41 L719.7,318.32 L720,316.04 L720.3,314.94 L720.6,315.57 L720.9,314.39 L721.2,312.99 L721.5,314.98 L721.8,313.17 L722.1,310.46 L722.42,311.65 L722.73,312.86 L723.05,310.82 L723.37,312.06 L723.68,309.23 L724,310.16 L724.35,315.75 L724.7,318.33 L725.1,310.89 L725.5,301.35 L725.8,304.89 L726.1,307.5 L726.4,308.81 L726.77,311.02 L727.13,311.35 L727.5,313.89 L727.83,311.28 L728.17,309.66 L728.5,307.56 L728.83,308.86 L729.17,312.32 L729.5,311.01 L729.83,309.81 L730.17,308.91 L730.5,309.09 L730.83,311.39 L731.17,311.76 L731.5,313.67 L731.87,309.9 L732.23,308.78 L732.6,310.73 L732.9,306.96 L733.2,306.39 L733.5,302.94 L733.8,304.31 L734.1,306.75 L734.4,308.18 L734.73,311.68 L735.05,310.91 L735.38,310.48 L735.7,311.31 L736.03,312.35 L736.37,312.85 L736.7,315.22 L737,315.81 L737.3,317.49 L737.6,317.73 L737.9,319.09 L738.2,319.57 L738.5,320.32 L738.8,322.81 L739.1,323.77 L739.4,324.34 L739.7,326.7 L740,328.01 L740.35,327.86 L740.7,329.01 L741.05,330.26 L741.4,330.19 L741.73,330.65 L742.07,329.26 L742.4,329.22 L742.73,329.12 L743.05,327.7 L743.38,327.22 L743.7,327.5 L744,326.58 L744.3,326.77 L744.6,325.59 L744.9,325.18 L745.27,325.34 L745.63,324.93 L746,326.05 L746,394 Z" fill="url(#g)"/>
<polyline points="5.5,123.72 6,149.44 6.37,163.07 6.73,174.98 7.1,188.56 7.46,182.59 7.82,176.39 8.18,171.41 8.54,164.96 8.9,159.89 9.25,144.06 9.6,128.85 9.95,131.88 10.3,135.02 10.64,136.6 10.98,139.46 11.32,142.8 11.66,146.02 12,148.12 12.3,143.58 12.6,140.26 12.95,128.87 13.3,120.56 13.8,111.3 14.13,110.78 14.47,110.55 14.8,110.84 15.3,118.46 15.6,113.7 15.9,111.43 16.2,108.33 16.55,106.69 16.9,106.11 17.3,111.05 17.7,117.14 18.1,110.39 18.5,104.43 19,91.83 19.4,97.7 19.8,84.14 20.3,77.43 20.8,77.18 21.2,93.47 21.7,85.32 22.2,98.59 22.7,87.12 23.2,94.04 23.6,81.2 24.1,97.37 24.6,85.66 25.1,101.77 25.6,79.39 26,72.37 26.35,72.91 26.7,71.94 27.1,87.98 27.5,81.26 28,97.27 28.5,88.42 29,99.12 29.5,94.6 29.85,97.2 30.2,101.31 30.5,99.65 30.8,98.13 31.1,101.43 31.4,105.54 31.76,104.11 32.12,101.76 32.48,100.46 32.84,97.9 33.2,97.48 33.56,97.85 33.92,99.18 34.28,99.27 34.64,98.48 35,99.23 35.32,98.35 35.63,95.25 35.95,94.76 36.27,92.5 36.58,90.83 36.9,89.14 37.2,90.84 37.5,89.31 37.8,89.59 38.1,89.94 38.4,96.99 38.7,100.99 39.03,105.63 39.35,109.62 39.67,114.17 40,117.77 40.3,120.87 40.6,122.47 40.9,125.8 41.27,122.33 41.63,120.26 42,117.1 42.4,114.56 42.8,114.02 43.13,115.79 43.47,117.43 43.8,119.66 44.1,122.24 44.4,123.78 44.7,125.48 45,128.81 45.4,124.04 45.8,119.86 46.13,116.55 46.47,111.69 46.8,107.04 47.15,105.48 47.5,103.82 47.8,103.7 48.1,107.09 48.4,108.17 48.8,106.15 49.2,103.71 49.5,101.87 49.8,101.01 50.1,99.42 50.4,99.82 50.73,98.62 51.07,98.79 51.4,99.3 51.7,105.59 52,112.42 52.35,116.18 52.7,120.5 53,122.16 53.3,123.34 53.6,125.27 53.95,128.86 54.3,135.3 54.8,147.47 55.17,143.09 55.53,140.07 55.9,137.03 56.23,132.81 56.57,127.96 56.9,125.44 57.23,126.78 57.57,126.52 57.9,127.56 58.23,127.24 58.57,127.91 58.9,129.12 59.4,138.84 59.8,149.64 60.2,157.76 60.53,155.46 60.85,154.87 61.17,152.12 61.5,149.43 61.83,148.17 62.17,145.44 62.5,144.34 62.88,144.19 63.25,143.13 63.62,141.99 64,140.42 64.3,144.01 64.6,147.12 64.9,151.51 65.2,154.55 65.6,151.2 66,146.45 66.3,150.68 66.6,157.13 66.9,162.25 67.23,155.93 67.57,149.88 67.9,144.02 68.25,151.27 68.6,157.13 68.95,158.18 69.3,157.79 69.65,156.87 70,156.99 70.35,158.17 70.7,158.48 71.05,160.24 71.4,161.46 71.7,161.33 72,164.4 72.3,166.06 72.63,165.36 72.97,162.87 73.3,161.81 73.8,173.63 74.2,181.28 74.6,189.05 74.9,197.15 75.2,204.78 75.5,211.34 75.8,216.93 76.17,213.19 76.55,209.36 76.92,202.77 77.3,200.31 77.63,197.84 77.97,194.17 78.3,190.8 78.6,189.75 78.9,188.62 79.2,190.4 79.5,188.76 79.8,197.36 80.1,205.01 80.42,207.79 80.75,212.43 81.08,218.8 81.4,222.72 81.8,232.94 82.2,245.4 82.6,232.79 83,221.35 83.35,222.42 83.7,222.58 84.05,224.9 84.4,226.37 84.73,228.63 85.05,230.91 85.38,234 85.7,236.11 86.03,242.02 86.37,249.65 86.7,255.24 87.1,269.29 87.5,284.19 87.8,269.14 88.1,255.59 88.42,251.57 88.75,246.64 89.08,242.75 89.4,238.87 89.76,235.34 90.12,232.46 90.48,228.49 90.84,225.31 91.2,221.41 91.5,225.11 91.8,226.67 92.1,229.28 92.4,231.93 92.72,229.01 93.04,224.79 93.36,222.15 93.68,218.04 94,214.65 94.3,214.77 94.6,214.1 94.9,214.9 95.2,219.32 95.5,223.86 95.8,229.95 96.1,233.78 96.42,236.68 96.75,239.51 97.08,241.67 97.4,243.72 97.7,245.28 98,246.59 98.3,248.2 98.6,248.37 98.9,248.35 99.2,247.1 99.5,246.39 99.8,246.44 100.1,246.16 100.4,246.4 100.7,246.87 101,247.26 101.33,245.61 101.65,244.98 101.97,243.91 102.3,243.02 102.65,245.06 103,246.42 103.5,236.75 103.8,233.89 104.1,231.86 104.4,228.69 104.7,226.2 105.03,227.86 105.35,228.32 105.67,230.35 106,233.13 106.3,231.87 106.6,228.81 106.9,227.81 107.2,227.83 107.5,220.89 107.8,215.57 108.1,209.24 108.4,205.21 108.73,210.49 109.07,215.76 109.4,218.46 109.78,215.82 110.15,211.33 110.53,205.45 110.9,203.35 111.2,208.23 111.5,210.61 111.8,217.43 112.1,220.39 112.4,219.49 112.7,219.82 113,218.17 113.3,214.98 113.62,217.29 113.95,219.05 114.27,220.02 114.6,221.09 114.95,216.51 115.3,212.77 115.65,205.71 116,202.36 116.33,206.15 116.67,209.02 117,214.09 117.32,215.87 117.63,216.44 117.95,215.99 118.27,219.66 118.58,219.97 118.9,221.42 119.28,217.14 119.65,215.95 120.03,214.24 120.4,213.75 120.72,209.73 121.04,206.31 121.36,203.58 121.68,201.16 122,197.81 122.3,197.84 122.6,198.59 122.9,200.75 123.2,201.11 123.5,200.57 123.8,198.84 124.1,198.04 124.4,198.3 124.72,198.8 125.03,199.15 125.35,201.45 125.67,201.88 125.98,203.07 126.3,202.83 126.65,203.44 127,201.56 127.35,202.21 127.7,200.93 128.02,201.98 128.34,203.56 128.66,205.4 128.98,205.59 129.3,206.61 129.62,209.69 129.95,211.68 130.28,213.93 130.6,216.46 130.9,214.43 131.2,212.82 131.5,211.15 131.8,209.29 132.1,210.62 132.4,210.46 132.7,211.4 133,211.48 133.32,215.48 133.65,218.68 133.98,222.78 134.3,226.12 134.66,230.49 135.02,233.42 135.38,236.06 135.74,239.74 136.1,243.7 136.4,241.42 136.7,241.61 137,240.04 137.3,239.19 137.6,240.06 137.9,239.68 138.2,240.19 138.5,240.8 138.82,241.69 139.13,241.08 139.45,242.28 139.77,242.5 140.08,242.8 140.4,242.85 140.8,243.61 141.2,243.99 141.6,237.66 142,231.11 142.37,229.79 142.73,226.61 143.1,224.06 143.42,222.1 143.74,221.47 144.06,219.67 144.38,217.51 144.7,215.05 145.07,216.39 145.45,217.87 145.82,219.54 146.2,220.45 146.5,221.51 146.8,221.82 147.1,223.54 147.4,224.16 147.76,221.88 148.12,219.79 148.48,219.35 148.84,216.7 149.2,215.17 149.52,216.45 149.85,218.91 150.18,220.91 150.5,222.8 150.86,222.94 151.22,224.05 151.58,223.87 151.94,224.9 152.3,225.24 152.66,225.36 153.02,224.41 153.38,224 153.74,224.07 154.1,223.57 154.42,223.84 154.73,223.45 155.05,223.5 155.37,223.05 155.68,222.85 156,222.81 156.3,219.22 156.6,216.32 156.9,214.58 157.2,210.44 157.5,208.59 157.8,205.7 158.1,201.97 158.43,206 158.77,208.86 159.1,211.2 159.4,212 159.7,212.75 160,212.3 160.3,213.54 160.66,213.39 161.02,213.8 161.38,213.63 161.74,213.54 162.1,213.03 162.43,216.2 162.77,218.53 163.1,221.21 163.47,223.39 163.85,226 164.22,229.09 164.6,232.38 164.9,229.97 165.2,229.14 165.5,226.69 165.8,224.8 166.12,224.7 166.43,224.69 166.75,224.28 167.07,223.41 167.38,224.58 167.7,224.4 168.06,224.5 168.42,225.06 168.78,225.75 169.14,225.31 169.5,226.88 169.82,227.48 170.15,228.57 170.48,230.25 170.8,232.37 171.1,234.83 171.4,238.98 171.7,242.66 172,238.19 172.3,234.31 172.6,230.77 172.9,233.24 173.2,235.53 173.5,237.44 173.8,239.63 174.12,241.2 174.45,243.79 174.78,246.43 175.1,249.69 175.4,250.84 175.7,253.11 176,254.07 176.3,256 176.6,254.78 176.9,253.88 177.2,252.36 177.5,250.78 177.82,247.71 178.14,245.61 178.46,243.06 178.78,240.61 179.1,237.59 179.4,241.6 179.7,243.27 180,247.29 180.3,250 180.6,251.59 180.9,255.37 181.2,259.01 181.5,256.62 181.8,253.17 182.1,250.25 182.4,247.54 182.72,249.04 183.05,248.19 183.38,249.11 183.7,248.73 184,249.16 184.3,249.67 184.6,248.19 184.9,249.11 185.2,250.79 185.5,253.57 185.8,255.45 186.1,256.87 186.43,254.09 186.75,249.58 187.07,244.99 187.4,241.11 187.7,242.81 188,243.67 188.3,244.36 188.6,245.03 189,249.05 189.4,252.71 189.73,249.84 190.07,244.8 190.4,242.3 190.73,239.34 191.07,235.09 191.4,233.28 191.7,234.81 192,236.98 192.3,237.86 192.66,237.5 193.02,237.03 193.38,237.5 193.74,236.34 194.1,235.48 194.43,234.66 194.75,233.49 195.07,232.2 195.4,231.36 195.7,230.7 196,227.99 196.3,227.2 196.6,228.77 196.9,231.46 197.2,234.52 197.52,232.4 197.84,231.1 198.16,230.43 198.48,228.71 198.8,227 199.18,227.78 199.55,229.31 199.93,230.43 200.3,230.88 200.6,231.93 200.9,231.63 201.2,233.5 201.5,233.82 201.8,231.68 202.1,228.88 202.4,225.68 202.7,222.68 203.02,221.93 203.35,218.5 203.68,216.91 204,214.3 204.3,214.45 204.6,216.16 204.9,217.22 205.2,215.23 205.56,215.4 205.92,213.16 206.28,212.88 206.64,211.26 207,209.44 207.32,210.79 207.65,212.32 207.98,215.92 208.3,215.99 208.66,214.6 209.02,216.3 209.38,216.09 209.74,213.84 210.1,212.35 210.42,211.4 210.73,209.96 211.05,209.64 211.37,207.72 211.68,207.08 212,206.03 212.35,210.4 212.7,214.79 213.05,217.72 213.4,220.02 213.72,217.4 214.05,215.13 214.38,212.03 214.7,209.28 215.02,208.54 215.34,209.37 215.66,211.72 215.98,209.16 216.3,210.51 216.7,202.81 217.1,195.46 217.4,191.07 217.7,188.92 218,186.52 218.3,184.68 218.65,192.33 219,201.45 219.36,198.32 219.72,195.59 220.08,190.07 220.44,187.3 220.8,186.67 221.15,192.77 221.5,196.91 221.87,195.61 222.23,192.87 222.6,191.83 223,175.68 223.4,158.52 223.73,158.34 224.07,158.29 224.4,156.9 224.7,161.02 225,165.45 225.4,169.04 225.8,172.29 226.15,176.46 226.5,179.85 226.83,175.64 227.17,171.72 227.5,167.13 227.82,166.28 228.14,164.46 228.46,164.65 228.78,162.77 229.1,162.87 229.42,161.93 229.73,160.89 230.05,160.1 230.37,159.8 230.68,159.92 231,159.52 231.3,159.65 231.6,160.66 231.9,162.46 232.2,163.63 232.5,166.59 232.8,169.59 233.1,173.46 233.46,173.02 233.82,173.98 234.18,174.74 234.54,176.03 234.9,176.03 235.22,177.39 235.54,177.72 235.86,178.32 236.18,179.32 236.5,181.44 236.8,187.73 237.1,190.79 237.4,194.03 237.7,198.5 238.02,199.52 238.34,199.85 238.66,200.33 238.98,201.73 239.3,202.88 239.6,203.29 239.9,204.5 240.2,206.52 240.5,208.17 240.82,210.77 241.15,212.17 241.48,215.3 241.8,217.38 242.12,218.91 242.44,220.33 242.76,223.45 243.08,224.3 243.4,227.01 243.7,224.59 244,223.1 244.3,222.49 244.6,220.27 244.9,217.66 245.2,213.26 245.5,209.1 245.86,208.54 246.22,208.09 246.58,208.27 246.94,208.56 247.3,205.37 247.6,205.53 247.9,204.33 248.2,206.14 248.5,202.85 248.83,199.07 249.17,195.59 249.5,193.16 249.8,200.11 250.1,205.39 250.4,210.24 250.77,205.26 251.13,199.21 251.5,191.45 251.82,188.92 252.15,189.24 252.48,186.56 252.8,182.2 253.12,184.38 253.45,183.61 253.78,183.75 254.1,183.76 254.4,189.87 254.7,195.96 255,203.47 255.3,210.32 255.6,205.81 255.9,196.7 256.2,192.94 256.5,184.06 256.9,185.04 257.3,187.03 257.7,194.53 258.1,200.78 258.43,197.38 258.75,196.57 259.07,194.07 259.4,193.64 259.75,191.94 260.1,193.12 260.45,195.45 260.8,193.3 261.12,197.74 261.45,202.25 261.78,205.33 262.1,206.23 262.4,201.31 262.7,196.5 263,194.34 263.38,191.97 263.75,193.29 264.12,192.89 264.5,191.74 264.82,191.89 265.13,193.23 265.45,192.94 265.77,192.62 266.08,193.6 266.4,193.21 266.76,193.2 267.12,192.83 267.48,194.09 267.84,194.41 268.2,194.01 268.52,195.29 268.83,194.61 269.15,195.72 269.47,196.89 269.78,198.45 270.1,199.23 270.4,196.94 270.7,195.35 271,194.26 271.3,192.99 271.63,193.45 271.97,192.03 272.3,192.78 272.7,196.38 273.1,200.22 273.43,200.59 273.75,200.77 274.07,200.77 274.4,201.21 274.76,201.54 275.12,202.47 275.48,201.61 275.84,202.06 276.2,203.2 276.52,202.5 276.83,202.3 277.15,202.35 277.47,203.28 277.78,203.02 278.1,204.17 278.46,204.01 278.82,204.18 279.18,203.02 279.54,202.73 279.9,202.75 280.22,203.52 280.54,203.98 280.86,203.68 281.18,203.45 281.5,203.87 281.8,208.19 282.1,212.28 282.4,214.86 282.7,217.49 283,219.66 283.33,222.06 283.67,226.48 284,228.87 284.4,233.66 284.8,237.7 285.1,240.73 285.4,242.32 285.72,241.45 286.05,240.49 286.38,239.4 286.7,239.61 287,235.86 287.3,232.19 287.6,229.03 287.93,226.94 288.25,223.11 288.57,219.62 288.9,217.49 289.2,219.55 289.5,222.39 289.8,223.26 290.1,226.16 290.4,225.28 290.7,223.88 291,222.56 291.3,219.31 291.6,217.87 291.9,215.74 292.2,214 292.52,214.76 292.84,213.63 293.16,213.69 293.48,212.3 293.8,212.59 294.1,210.39 294.4,208.57 294.7,207.87 295,206.61 295.3,204.04 295.6,203.59 295.9,202.39 296.2,199.9 296.5,198.29 296.8,196.08 297.1,193.91 297.4,202.06 297.7,211.1 298.03,212.05 298.37,211.51 298.7,211.73 299,212.08 299.3,212.53 299.6,210.46 299.9,210.24 300.27,212.69 300.65,217.24 301.02,219.27 301.4,220.59 301.72,217.6 302.05,215.39 302.38,212.75 302.7,209.92 303,207.37 303.3,206.69 303.6,207.39 303.9,205.63 304.27,201.22 304.65,197.27 305.02,195.18 305.4,189.24 305.75,197.4 306.1,204.17 306.48,203.27 306.85,203.54 307.23,202.86 307.6,199.89 308,198.74 308.4,199.68 308.73,202.04 309.07,205.38 309.4,212 309.7,211.17 310,212.96 310.3,212.32 310.6,211.45 310.9,207.88 311.2,204.69 311.5,201.94 311.82,203.17 312.14,202.87 312.46,202.92 312.78,201.22 313.1,201.7 313.42,200.69 313.74,200.31 314.06,199.13 314.38,198.75 314.7,198.53 315,197.63 315.3,194.77 315.6,193.83 315.9,192.79 316.22,192.42 316.55,190.57 316.88,189.83 317.2,190.51 317.55,189.34 317.9,187.32 318.25,185.41 318.6,185.58 318.93,183.8 319.25,183.7 319.57,182.32 319.9,181.72 320.2,179.98 320.5,180.31 320.8,178.73 321.1,178.35 321.48,180.68 321.85,182.28 322.23,182.87 322.6,184.55 322.93,187.27 323.27,189.9 323.6,192.11 323.9,199.1 324.2,206.7 324.5,210.53 324.8,213.89 325.1,215.59 325.4,219.5 325.7,219.21 326,217.46 326.3,218.14 326.6,216.39 326.93,218.06 327.25,218.88 327.57,219.9 327.9,220.29 328.2,220.8 328.5,221.38 328.8,221.46 329.1,222.15 329.4,212.78 329.7,203.73 330,194.04 330.35,208.54 330.7,221.88 331,225.03 331.3,229.42 331.68,228.35 332.05,226.73 332.43,225.19 332.8,224.56 333.1,227.74 333.4,231.54 333.7,235.79 334.03,240.92 334.37,248.07 334.7,254.43 335,248.49 335.3,245.53 335.6,239.36 335.9,236.55 336.2,236.53 336.5,235.63 336.8,234.2 337.1,235.31 337.43,241.72 337.77,250.1 338.1,254.58 338.4,260.73 338.7,265.26 339,268.65 339.33,263.55 339.67,256.48 340,253.35 340.4,235.33 340.8,219.98 341.1,220.96 341.4,219.96 341.7,222.81 342,232.01 342.3,238.38 342.6,240.11 342.9,242.17 343.2,241.42 343.5,244.41 343.83,243.07 344.17,244.98 344.5,243.5 344.8,249.46 345.1,255.58 345.42,253.82 345.74,254.22 346.06,255.13 346.38,255.07 346.7,254.86 347,257.16 347.3,259.19 347.6,262.5 347.9,263.06 348.2,264.38 348.5,264.19 348.8,266.16 349.12,263.78 349.45,263.15 349.78,262.02 350.1,260.28 350.4,260.35 350.7,259.09 351,258.38 351.3,258.11 351.63,256.23 351.97,257.02 352.3,255.81 352.6,247.43 352.9,240.08 353.4,217.12 353.73,218.45 354.07,217.96 354.4,217.78 354.7,221.22 355,223.51 355.3,229.23 355.6,236.29 355.9,235.65 356.2,237.36 356.5,236.93 356.8,238.02 357.12,238.36 357.43,237.5 357.75,237.41 358.07,236.63 358.38,235.92 358.7,235.75 359,237.19 359.3,239.19 359.6,240.14 359.9,241.52 360.22,242.73 360.54,242.11 360.86,242.86 361.18,244.14 361.5,243.74 361.8,242.48 362.1,241.82 362.4,240.2 362.7,239.37 363,241.23 363.3,243.87 363.6,245.94 363.9,248.19 364.2,251.73 364.5,254.36 364.8,252.27 365.1,252 365.4,249.34 365.7,247.64 366.03,244.69 366.37,242.69 366.7,240.19 367,243.15 367.3,245.64 367.6,248.52 367.9,251.22 368.2,249.61 368.5,246.85 368.8,243.89 369.1,241.73 369.43,242.16 369.75,243.7 370.07,244.12 370.4,244.1 370.7,244.15 371,241.77 371.3,241.55 371.62,242.42 371.95,243.23 372.28,244.02 372.6,246.25 372.9,243.62 373.2,243.08 373.5,242.31 373.8,239.63 374.18,239.27 374.55,239.47 374.93,238.86 375.3,238.63 375.6,237.05 375.9,234.18 376.2,232.55 376.5,230.68 376.82,231.53 377.15,234.12 377.48,235.2 377.8,236.34 378.15,233.96 378.5,234.05 378.85,232.64 379.2,230.94 379.5,238.14 379.8,244.42 380.13,245.29 380.47,246.34 380.8,247.77 381.1,248.71 381.4,250.44 381.7,252.35 382,253.51 382.32,252.83 382.65,251.69 382.98,250.05 383.3,249.59 383.6,248.15 383.9,247.46 384.2,245.79 384.5,244.12 384.86,244.13 385.22,244.04 385.58,242.25 385.94,242.71 386.3,240.72 386.62,240.49 386.95,239.83 387.28,240.02 387.6,239.71 388,241.54 388.4,243.02 388.73,241.04 389.07,237.29 389.4,234.28 389.7,234.28 390,232.76 390.3,231.78 390.6,230.66 390.93,231.94 391.25,231.9 391.57,233.27 391.9,233.82 392.2,233.75 392.5,232.75 392.8,232.88 393.1,232.31 393.42,231.77 393.74,231.5 394.06,232.04 394.38,231.04 394.7,232.26 395,232.66 395.3,234.11 395.6,235.87 396,241.84 396.4,245.55 396.73,247.29 397.07,249.18 397.4,251.27 397.73,255.97 398.07,259.55 398.4,263.32 398.7,265.85 399,267.24 399.3,270.54 399.6,271.28 399.9,273.11 400.2,270.71 400.5,268.43 400.8,264.71 401.1,263.59 401.4,267.36 401.7,271.11 402,267.77 402.3,265.93 402.6,263.78 402.9,261.66 403.23,262.59 403.57,262.17 403.9,261.51 404.23,261.45 404.57,260.78 404.9,259.86 405.22,259.46 405.53,259.36 405.85,260.31 406.17,259.33 406.48,259.41 406.8,259.48 407.16,259.09 407.52,259.73 407.88,260.03 408.24,260.99 408.6,260.69 408.98,260.44 409.35,261.29 409.73,260.38 410.1,260.76 410.43,262.26 410.77,263.18 411.1,265.66 411.43,267.87 411.75,270.59 412.07,272.08 412.4,274.83 412.75,272.99 413.1,270.9 413.45,270.35 413.8,267.55 414.12,267.99 414.44,266.23 414.76,265.24 415.08,264.84 415.4,265.02 415.7,265.66 416,264.41 416.3,265.49 416.6,265.79 416.92,267.37 417.24,267.5 417.56,269.09 417.88,269.96 418.2,271.83 418.5,269.54 418.8,269.26 419.1,266.83 419.4,265.34 419.7,263.45 420,260.46 420.3,257.18 420.63,261.42 420.97,263.93 421.3,268.46 421.6,266.82 421.9,265.46 422.2,263.7 422.5,261.77 422.88,259.24 423.25,256.63 423.62,254.82 424,250.94 424.33,253.69 424.67,253.77 425,255.53 425.4,258.07 425.8,261.54 426.13,258 426.47,254.91 426.8,252.81 427.14,250.43 427.48,249.46 427.82,248.23 428.16,247.25 428.5,245.9 428.83,247.17 429.17,248.12 429.5,249.52 429.8,254.15 430.1,260.15 430.43,261.11 430.75,262.49 431.07,262.82 431.4,264.5 431.7,264.89 432,264.43 432.3,263.55 432.6,263.94 432.9,263.22 433.2,260.78 433.5,259.31 433.8,258.08 434.13,257.09 434.47,255.68 434.8,252.95 435.17,254.58 435.53,256.36 435.9,258.12 436.23,260.3 436.57,261.59 436.9,263.72 437.26,263.24 437.62,264.24 437.98,263.59 438.34,262.32 438.7,263.44 439.02,261.76 439.33,261.91 439.65,262.57 439.97,261.97 440.28,261.57 440.6,260.8 440.9,257.95 441.2,256.19 441.5,252.87 441.8,247.18 442.1,241.62 442.45,245.65 442.8,250.84 443.1,251.77 443.4,251.91 443.7,251.9 444,252.41 444.3,254.61 444.6,256.56 444.9,259.77 445.22,260.19 445.54,261.47 445.86,262.47 446.18,262.45 446.5,263.42 446.8,266.17 447.1,268.11 447.4,270.27 447.7,271.53 448,272.26 448.3,272.56 448.6,272.92 448.96,273.76 449.32,274.09 449.68,274.63 450.04,274.93 450.4,275.3 450.73,277.87 451.07,279.09 451.4,281.67 451.7,286.62 452,290.87 452.3,295.11 452.6,296.85 452.9,299.48 453.2,301.88 453.5,304.49 453.8,316.5 454.1,329.28 454.45,340.74 454.8,350.59 455.1,352.9 455.4,354.65 455.7,350.02 456,346.18 456.3,340.16 456.6,331.86 456.9,332.27 457.2,331.26 457.5,331.85 457.83,335.4 458.17,338.03 458.5,340.66 458.8,332.17 459.1,322.87 459.4,318.52 459.7,313.57 460,309.15 460.3,304.83 460.6,302.63 460.9,300.76 461.2,299.92 461.5,297.04 461.8,299.03 462.1,299.79 462.4,301.62 462.73,301.03 463.07,302.84 463.4,302.27 463.7,308.84 464,316.24 464.33,320.14 464.67,323.22 465,327.57 465.4,322.02 465.8,316.92 466.13,313.7 466.47,310.89 466.8,308.16 467.1,309.82 467.4,310.97 467.7,311.14 468.1,310.95 468.5,312.18 468.9,320.18 469.3,328.54 469.6,331.46 469.9,335.54 470.27,334.37 470.65,332.86 471.02,331.38 471.4,330.3 471.72,329.52 472.04,330.46 472.36,329.25 472.68,329.46 473,329.51 473.3,329.18 473.6,328.3 473.9,327.7 474.2,327.78 474.5,323.83 474.8,321.7 475.1,317.67 475.45,318.76 475.8,318.13 476.15,324.15 476.5,329.81 476.82,329.96 477.14,329.46 477.46,329.04 477.78,330.07 478.1,329.25 478.43,329.04 478.75,328.98 479.07,329.12 479.4,328.89 479.7,326.75 480,324.32 480.3,321.38 480.68,322.14 481.05,321.87 481.43,320.44 481.8,321.52 482.13,322.65 482.47,323.45 482.8,323.42 483.1,327.4 483.4,329.95 483.7,331.82 484.1,336.17 484.5,342.02 484.83,344.08 485.17,345.97 485.5,348.26 485.83,345.8 486.17,343.41 486.5,341.74 486.8,338.99 487.1,336.61 487.4,335.75 487.7,336.79 488,337.02 488.3,339.4 488.6,340.17 488.9,338.93 489.2,337.22 489.5,336.06 489.8,334.36 490.1,333.61 490.4,331.75 490.7,331.71 491.03,328.58 491.37,326.05 491.7,322.7 492,321.35 492.3,318.75 492.6,316.22 492.9,318.64 493.2,320.96 493.5,323.99 493.8,326.59 494.1,330.55 494.4,333.33 494.72,333.15 495.04,332.42 495.36,331.74 495.68,331.52 496,329.41 496.3,331.05 496.6,330.75 496.9,331.2 497.2,331.66 497.5,331.49 497.8,330.3 498.1,329.92 498.4,330.34 498.72,329.28 499.04,330.54 499.36,330.9 499.68,330.29 500,331.58 500.37,330.06 500.73,328.82 501.1,326.23 501.43,325.2 501.77,322.38 502.1,320.28 502.4,320.01 502.7,317.7 503,317.87 503.3,316.8 503.62,316.34 503.95,317.18 504.28,316.39 504.6,316.56 505,312.34 505.4,308.43 505.73,305.7 506.07,304.23 506.4,302.38 506.73,306.89 507.07,311.62 507.4,315.07 507.7,312.82 508,309.05 508.3,306.11 508.6,302.63 508.9,304.68 509.2,307.09 509.5,308.25 509.8,309.3 510.1,309.4 510.4,310.21 510.75,314.18 511.1,318.64 511.48,319.17 511.85,319.85 512.23,319.11 512.6,320.66 512.9,319.69 513.2,317.92 513.5,315.9 513.8,315.08 514.16,314.23 514.52,314.14 514.88,314.93 515.24,314.05 515.6,313.75 515.92,313.36 516.24,312.96 516.56,311.88 516.88,311.29 517.2,310.7 517.58,310.64 517.95,310.3 518.33,310.26 518.7,309.34 519.08,310.69 519.45,310.98 519.83,312.1 520.2,311.66 520.52,310.43 520.84,308.84 521.16,308.66 521.48,307.52 521.8,305.75 522.1,305.09 522.4,305.62 522.7,305.36 523,306.87 523.3,308.25 523.6,310.18 523.93,312.41 524.27,314.28 524.6,316.49 524.97,318.49 525.33,320.63 525.7,320.89 526.03,322.51 526.37,322.46 526.7,323.39 527,323.9 527.3,322.92 527.6,322.87 527.9,321.51 528.23,320.97 528.55,321.72 528.88,322.2 529.2,322.9 529.6,323.57 530,323.36 530.33,322.18 530.65,320.61 530.97,320.41 531.3,318.64 531.63,319.38 531.97,319.99 532.3,320.81 532.6,321.06 532.9,319.33 533.2,319.85 533.5,313.51 533.8,309.82 534.1,303.71 534.4,302 534.7,301.6 535,299.31 535.3,298.57 535.7,293.6 536.2,270.28 536.55,263.69 536.9,254.27 537.2,256.81 537.5,258.39 537.8,258.1 538.12,257.46 538.45,255.15 538.77,251.66 539.1,250.76 539.5,253.51 539.9,261.27 540.23,262.23 540.55,261.54 540.88,263.4 541.2,267.54 541.5,269.78 541.8,268.75 542.1,271.22 542.4,277.06 542.7,279.36 543,286.2 543.33,280.52 543.67,274.65 544,271.42 544.3,267.22 544.6,261.78 544.9,254.69 545.2,244.82 545.7,269.07 546.1,254.51 546.6,276.52 547,258.47 547.5,278.7 547.9,251.59 548.4,263.03 548.9,241.9 549.3,269.02 549.7,252.24 550.2,275.25 550.6,256.42 551,277.31 551.5,261.73 552,275.18 552.4,263.9 552.9,272.38 553.3,267.72 553.8,275.59 554.12,275.08 554.43,275.13 554.75,275.84 555.07,277.09 555.38,276.79 555.7,277.8 556.06,278.4 556.42,279.61 556.78,280.21 557.14,280.11 557.5,280.4 557.82,281.54 558.13,282.51 558.45,283.49 558.77,284.57 559.08,285.4 559.4,284.77 559.76,287.01 560.12,287.96 560.48,289.03 560.84,289.54 561.2,290.04 561.53,288.9 561.87,286.76 562.2,284.5 562.6,281.51 563,277.25 563.33,279.07 563.67,282.05 564,284.68 564.33,282.05 564.65,281.25 564.97,279.87 565.3,277.07 565.65,276.9 566,276.23 566.35,275.12 566.7,273.93 567.03,274.78 567.35,276.35 567.67,277.19 568,277.44 568.33,277.44 568.67,279.19 569,279.74 569.3,277.35 569.6,276.38 569.9,275.36 570.2,273.82 570.58,275.06 570.95,276.81 571.33,278.82 571.7,280 572,277.86 572.3,275.69 572.6,274.37 572.9,271.68 573.2,271.55 573.5,270.84 573.8,270.58 574.1,269.54 574.43,272.44 574.77,277.03 575.1,279.1 575.4,279.9 575.7,281.98 576,283.46 576.35,278.75 576.7,275.76 577,246.75 577.5,200.53 577.83,204.23 578.17,208.75 578.5,214.78 578.9,220.59 579.3,225.98 579.65,231.11 580,235.28 580.3,234.46 580.6,231.03 580.9,230.21 581.2,227.3 581.6,232.96 582,238.89 582.33,236.93 582.67,236.45 583,237.1 583.33,242.71 583.67,248.08 584,253.65 584.35,251.87 584.7,249.51 585.05,244.97 585.4,243.14 585.73,247.76 586.07,249.96 586.4,256.29 586.73,260.03 587.07,263.53 587.4,270.38 587.7,266.55 588,265.74 588.3,264.25 588.6,263.47 588.9,264.64 589.2,265.85 589.5,268.05 589.82,265.58 590.14,266.4 590.46,264.88 590.78,260.97 591.1,258.82 591.4,261.93 591.7,264.69 592,268.81 592.35,267.29 592.7,265.56 593.05,261.67 593.4,262.36 593.73,263.96 594.07,265.61 594.4,268.46 594.7,266.14 595,266.88 595.3,269.19 595.6,270.22 595.92,269.91 596.24,269.26 596.56,270.61 596.88,271.59 597.2,270.12 597.58,270.17 597.95,269.37 598.33,268.37 598.7,268.84 599.03,267.43 599.35,267.17 599.67,266.4 600,267.53 600.36,265.36 600.72,265.63 601.08,263.93 601.44,262.82 601.8,263.38 602.1,264.92 602.4,268.73 602.7,271.29 603.02,272.68 603.34,272.84 603.66,274.7 603.98,275.5 604.3,278.19 604.6,276.35 604.9,274.31 605.2,272.32 605.5,270.44 605.8,269.99 606.1,268.21 606.4,267.23 606.7,265.23 607.03,263.29 607.37,260.96 607.7,259.94 608,263.79 608.3,267.23 608.6,272.49 608.95,272.78 609.3,274.26 609.65,275.1 610,276.53 610.33,278.59 610.65,278.94 610.97,279.82 611.3,281.49 611.65,279.21 612,278.15 612.35,274.88 612.7,274.27 613.02,272.07 613.34,272.69 613.66,271.61 613.98,270.16 614.3,269.86 614.67,268.31 615.05,267.01 615.42,265.67 615.8,264.68 616.12,266.76 616.45,267.85 616.77,268.81 617.1,268.56 617.42,268.71 617.75,269.53 618.08,268.04 618.4,268.96 618.8,271.97 619.2,276.77 619.53,273.38 619.85,272.79 620.17,270.2 620.5,268.02 620.8,267.65 621.1,268.83 621.4,268.19 621.7,267.5 622.03,267.5 622.37,267.86 622.7,266.35 623,271.51 623.3,275.42 623.6,275.82 623.9,277.1 624.2,277.34 624.5,275.81 624.8,274.93 625.1,274.24 625.4,274.37 625.7,274.64 626,274.74 626.3,275.08 626.6,276.18 626.9,279.2 627.2,282.23 627.5,284.73 627.83,287.82 628.17,290.78 628.5,296.35 628.8,293.44 629.1,292.32 629.4,288.46 629.7,288.57 630.03,288.67 630.37,291.52 630.7,293.02 631.1,289.53 631.5,285.74 631.83,291.12 632.17,292.77 632.5,296.74 632.8,295.45 633.1,295.62 633.4,297.83 633.75,301.73 634.1,306.36 634.4,308.57 634.7,310.83 635,310.81 635.32,312.26 635.64,312.05 635.96,312.24 636.28,311.59 636.6,312.54 636.9,318.26 637.2,323.88 637.53,324.86 637.85,327.34 638.17,328.66 638.5,331.1 638.85,331.7 639.2,334.7 639.55,336.53 639.9,337.49 640.23,334.9 640.55,332.3 640.88,329.68 641.2,326.23 641.5,324.48 641.8,320.02 642.1,316.69 642.4,307.76 642.7,299.2 643,291.31 643.5,275.85 643.85,282.4 644.2,290.14 644.5,290.99 644.8,292.89 645.1,297.22 645.5,295.29 645.9,293.27 646.25,294 646.6,292.23 646.95,294.83 647.3,294.49 647.7,295.74 648.1,299.39 648.5,311.68 648.8,308 649.1,303.59 649.4,299.39 649.7,303.6 650,306.04 650.3,310.79 650.6,308.36 650.9,302.77 651.2,300.83 651.5,305.29 651.8,307.33 652.1,313.34 652.4,312.33 652.7,309.19 653,307.92 653.3,307.34 653.6,305.59 653.9,304.13 654.2,303.76 654.5,302.24 654.83,300.47 655.15,299.23 655.47,298.31 655.8,297.4 656.1,300.14 656.4,301.72 656.7,303.76 657.03,304.38 657.35,305.21 657.67,304.71 658,306.23 658.3,306.16 658.6,305.34 658.9,303.47 659.2,302.98 659.6,304.16 660,304.58 660.3,315.95 660.8,325.11 661.2,328.44 661.6,331.31 661.98,329.76 662.35,329.17 662.73,329.73 663.1,328.64 663.4,326.87 663.7,324.35 664,322.59 664.33,321.94 664.65,321.17 664.97,319.03 665.3,319.23 665.6,318.33 665.9,318.69 666.2,317.74 666.5,317.87 666.8,319.71 667.1,320.46 667.4,321.1 667.7,320.76 668,319.84 668.3,319.9 668.6,318.06 668.9,318.71 669.2,319.89 669.5,319.67 669.8,321.05 670.1,322.7 670.4,323.07 670.7,323.75 671,325.15 671.3,325.85 671.6,325.84 671.9,326.4 672.23,324.38 672.57,322.6 672.9,320.75 673.2,320.09 673.5,319.54 673.8,318.82 674.1,319.07 674.42,319.44 674.73,318.98 675.05,318.81 675.37,318.84 675.68,318.02 676,318.74 676.36,318.22 676.72,318.24 677.08,318.22 677.44,317.87 677.8,317.5 678.17,317.84 678.55,318.25 678.92,319.17 679.3,319.41 679.6,320.51 679.9,320.37 680.2,321.69 680.5,323.28 680.83,319.21 681.17,316.66 681.5,313.49 681.8,310.06 682.1,308.08 682.4,306.2 682.7,306.19 683,304.43 683.3,303.51 683.62,304.94 683.95,304.4 684.27,303.95 684.6,304.62 684.9,305.95 685.2,307.68 685.5,307.92 685.8,309.36 686.1,312.38 686.4,313.88 686.7,314.8 687,316.94 687.35,319.11 687.7,321.78 688,315.19 688.3,309.06 688.6,308.81 688.9,308.13 689.2,308.28 689.55,314.14 689.9,320.02 690.3,320.81 690.7,322.56 691,327.33 691.3,332.56 691.62,332.23 691.95,334.34 692.27,333.88 692.6,336.03 693,337.29 693.4,338.7 693.8,334.84 694.2,329.62 694.6,328.12 695,327.45 695.33,330.06 695.67,332.11 696,333.94 696.3,333.92 696.6,333.64 696.9,334.35 697.2,332.41 697.53,331.86 697.85,331.56 698.17,329.99 698.5,328.82 698.9,325.34 699.3,320.33 699.62,319.47 699.95,319.74 700.27,319.23 700.6,320.16 701,323.2 701.4,328.49 701.73,327.91 702.05,325.43 702.38,328 702.7,325.13 703,325.55 703.3,323.98 703.6,322.89 703.9,318.48 704.23,319.12 704.57,320.76 704.9,317.14 705.23,319.75 705.57,324.18 705.9,326.39 706.2,326.62 706.5,324.69 706.8,322.42 707.1,322.79 707.4,319.72 707.7,318.47 708,317.85 708.3,315.48 708.6,314.43 708.9,314.41 709.2,312.56 709.5,313.9 709.83,312.87 710.15,312.3 710.47,310.68 710.8,311.72 711.1,312.75 711.4,314.28 711.7,315.26 712,317.34 712.38,317.99 712.75,316.5 713.12,316.65 713.5,317.67 713.8,320.16 714.1,318.75 714.4,320.54 714.7,322.7 715.03,319.42 715.37,319.14 715.7,320.82 716,322.07 716.3,322.71 716.6,323.02 716.9,327.87 717.2,328.95 717.5,331.32 717.83,330.56 718.15,328.77 718.47,325.6 718.8,323.19 719.1,321.64 719.4,320.41 719.7,318.32 720,316.04 720.3,314.94 720.6,315.57 720.9,314.39 721.2,312.99 721.5,314.98 721.8,313.17 722.1,310.46 722.42,311.65 722.73,312.86 723.05,310.82 723.37,312.06 723.68,309.23 724,310.16 724.35,315.75 724.7,318.33 725.1,310.89 725.5,301.35 725.8,304.89 726.1,307.5 726.4,308.81 726.77,311.02 727.13,311.35 727.5,313.89 727.83,311.28 728.17,309.66 728.5,307.56 728.83,308.86 729.17,312.32 729.5,311.01 729.83,309.81 730.17,308.91 730.5,309.09 730.83,311.39 731.17,311.76 731.5,313.67 731.87,309.9 732.23,308.78 732.6,310.73 732.9,306.96 733.2,306.39 733.5,302.94 733.8,304.31 734.1,306.75 734.4,308.18 734.73,311.68 735.05,310.91 735.38,310.48 735.7,311.31 736.03,312.35 736.37,312.85 736.7,315.22 737,315.81 737.3,317.49 737.6,317.73 737.9,319.09 738.2,319.57 738.5,320.32 738.8,322.81 739.1,323.77 739.4,324.34 739.7,326.7 740,328.01 740.35,327.86 740.7,329.01 741.05,330.26 741.4,330.19 741.73,330.65 742.07,329.26 742.4,329.22 742.73,329.12 743.05,327.7 743.38,327.22 743.7,327.5 744,326.58 744.3,326.77 744.6,325.59 744.9,325.18 745.27,325.34 745.63,324.93 746,326.05" fill="none" stroke="#ff3a33" stroke-width="2" stroke-linejoin="round" stroke-linecap="round"/></g>
<path d="M5,494.5 V442 H7 V440.5 H8 V443 H9 V423 H11 V425.5 H13 V419 H14 V418 H16 V420 H18 V445 H19 V446 H22 V450 H23 V454 H26 V445 H30 V446.5 H33 V448.5 H35 V459.5 H36 V460.5 H37 V461.5 H38 V462.5 H39 V463.5 H40 V464 H41 V464.5 H42 V465 H43 V465.5 H45 V466 H48 V465.5 H50 V465 H51 V464.5 H52 V464 H53 V463.5 H54 V463 H55 V462 H56 V461 H57 V460.5 H58 V460 H59 V459.5 H60 V460.5 H61 V462 H62 V463 H63 V464 H64 V464.5 H65 V465 H66 V462 H67 V459.5 H68 V457.5 H69 V456 H70 V455 H71 V454 H72 V454.5 H73 V455 H74 V456 H75 V458.5 H76 V457.5 H77 V455 H78 V454.5 H79 V453.5 H80 V452.5 H81 V451 H82 V449.5 H83 V450 H84 V452 H85 V454.5 H86 V456 H87 V457 H89 V456 H90 V455 H92 V454.5 H93 V453 H95 V454 H96 V456.5 H97 V459 H98 V461 H99 V462.5 H100 V463.5 H101 V464.5 H102 V466 H103 V466.5 H104 V463 H105 V461 H108 V454 H109 V453.5 H112 V454 H113 V457.5 H114 V458.5 H115 V459.5 H116 V467 H117 V464.5 H118 V467 H119 V467.5 H120 V467 H121 V466 H122 V465.5 H123 V465 H124 V464.5 H125 V465 H126 V465.5 H129 V468 H130 V470.5 H131 V467.5 H132 V472.5 H133 V473.5 H134 V474 H135 V474.5 H136 V474 H137 V473 H138 V473.5 H139 V474 H140 V472.5 H141 V470 H142 V469 H143 V468 H144 V467 H145 V467.5 H148 V468 H149 V469 H150 V470.5 H151 V471.5 H152 V472.5 H153 V473.5 H154 V474.5 H155 V475.5 H156 V476 H157 V476.5 H158 V477 H159 V477.5 H161 V478 H162 V478.5 H163 V479 H164 V478.5 H165 V477.5 H166 V477 H167 V476 H168 V475 H169 V474 H170 V473.5 H171 V472.5 H172 V472 H173 V471.5 H174 V472 H175 V472.5 H176 V473 H178 V473.5 H180 V474 H182 V474.5 H183 V475 H184 V475.5 H186 V476 H187 V477 H188 V477.5 H189 V478 H190 V477.5 H191 V476 H192 V475 H193 V474.5 H194 V473.5 H195 V472.5 H196 V471 H197 V470 H198 V473 H200 V473.5 H203 V474 H205 V473.5 H206 V472.5 H207 V472 H208 V471.5 H209 V470.5 H210 V471 H211 V472 H212 V472.5 H213 V473 H214 V474 H215 V473.5 H216 V473 H217 V472 H218 V469.5 H219 V468 H220 V467 H221 V466.5 H223 V455 H224 V451.5 H225 V449.5 H226 V451 H227 V452 H228 V453 H229 V452.5 H230 V452 H231 V454 H232 V461 H233 V468.5 H234 V469.5 H235 V470.5 H236 V471.5 H237 V472.5 H239 V471 H240 V469 H241 V467.5 H242 V466.5 H243 V465 H244 V464.5 H245 V463.5 H246 V464 H247 V465 H248 V465.5 H249 V465 H252 V464.5 H255 V465 H258 V465.5 H259 V467.5 H260 V470.5 H261 V467.5 H262 V465.5 H263 V466.5 H264 V467 H265 V468 H266 V469 H267 V469.5 H268 V471 H269 V473 H270 V475 H271 V476.5 H272 V477.5 H273 V478.5 H274 V479 H276 V478.5 H278 V478 H279 V477.5 H281 V477 H283 V476.5 H285 V474.5 H286 V473 H287 V471 H288 V469 H289 V467 H290 V466.5 H291 V466 H292 V465 H293 V466 H294 V468 H295 V469.5 H296 V471.5 H297 V473 H298 V473.5 H300 V474 H301 V473 H302 V472 H303 V471 H304 V469.5 H305 V468.5 H306 V467.5 H307 V467 H308 V466.5 H309 V467 H310 V467.5 H311 V468 H314 V468.5 H316 V468 H317 V467.5 H319 V467 H321 V466.5 H323 V466 H325 V465.5 H327 V465 H328 V464.5 H329 V464 H330 V463.5 H334 V462 H335 V461 H336 V459.5 H337 V457.5 H338 V456 H339 V453.5 H340 V451.5 H341 V451 H342 V450.5 H343 V450 H346 V448.5 H347 V448 H348 V449.5 H349 V450.5 H350 V451 H352 V452.5 H353 V454 H354 V455 H355 V456.5 H356 V457.5 H357 V459 H358 V461 H359 V462.5 H360 V464 H361 V465 H362 V466 H363 V466.5 H364 V467 H365 V466.5 H367 V466 H368 V465 H369 V464.5 H370 V462 H371 V460 H372 V459 H374 V460 H375 V458.5 H376 V459 H377 V459.5 H378 V461 H379 V463.5 H380 V465.5 H381 V467.5 H382 V469.5 H383 V470 H385 V470.5 H389 V471 H390 V472 H391 V473.5 H392 V474.5 H393 V475.5 H394 V476.5 H395 V477.5 H397 V476 H398 V474.5 H399 V472 H400 V469.5 H401 V467.5 H402 V465 H403 V463 H404 V461.5 H405 V459.5 H406 V460.5 H407 V461.5 H408 V463.5 H409 V465.5 H410 V468 H411 V469.5 H412 V471 H413 V472 H414 V472.5 H415 V473 H416 V473.5 H419 V474 H421 V475 H423 V474.5 H424 V474 H425 V473.5 H426 V473 H428 V473.5 H429 V474 H430 V475 H431 V476 H432 V477 H433 V477.5 H437 V476.5 H438 V475 H439 V474.5 H440 V474 H441 V473 H442 V469.5 H443 V475 H446 V469.5 H447 V474 H449 V473 H450 V472.5 H451 V471 H452 V469 H453 V467 H454 V463.5 H455 V460 H456 V458.5 H457 V457 H458 V456 H459 V455.5 H460 V455 H461 V454.5 H462 V456 H463 V462.5 H464 V466 H465 V469 H466 V471 H467 V473 H468 V473.5 H470 V474 H473 V474.5 H476 V475 H477 V475.5 H479 V476 H481 V476.5 H484 V477 H487 V477.5 H489 V477 H490 V475.5 H491 V475 H494 V474.5 H495 V474 H496 V473.5 H497 V474.5 H498 V475.5 H499 V474.5 H500 V473 H501 V471 H502 V469.5 H503 V468 H504 V466.5 H505 V466 H506 V465 H507 V464 H508 V463.5 H509 V469 H510 V472 H512 V470.5 H513 V467 H514 V464.5 H515 V462.5 H516 V461 H517 V461.5 H518 V462 H519 V463 H520 V464 H521 V468.5 H522 V473 H523 V476.5 H524 V475.5 H525 V472.5 H526 V465.5 H527 V459.5 H528 V453.5 H529 V446.5 H530 V440.5 H531 V436 H532 V432 H533 V428 H534 V431 H535 V435.5 H536 V439 H537 V439.5 H538 V438 H539 V436.5 H540 V438 H541 V442.5 H542 V446.5 H543 V448 H544 V444.5 H545 V443.5 H546 V443 H547 V449 H548 V450.5 H549 V450 H550 V449.5 H553 V462 H554 V466.5 H555 V470.5 H556 V472.5 H557 V475 H558 V477 H559 V479 H560 V480.5 H561 V481.5 H562 V482.5 H563 V483.5 H565 V484 H568 V483.5 H569 V483 H570 V482.5 H571 V481.5 H572 V481 H573 V480 H574 V479.5 H575 V478.5 H576 V463.5 H577 V444 H578 V431.5 H579 V420.5 H580 V413.5 H581 V410.5 H582 V409.5 H583 V410 H585 V411 H586 V434 H587 V443.5 H588 V453 H589 V461 H590 V465 H591 V468 H592 V470.5 H593 V473 H594 V474.5 H595 V476 H597 V476.5 H600 V477 H603 V477.5 H605 V477 H608 V476.5 H609 V476 H610 V475.5 H612 V475 H615 V475.5 H616 V476.5 H617 V478 H618 V479.5 H619 V481 H620 V481.5 H621 V482 H622 V482.5 H624 V482 H625 V478.5 H626 V475.5 H629 V475 H633 V476 H634 V478 H635 V477 H636 V476 H637 V474 H638 V472.5 H639 V471 H640 V469.5 H641 V468.5 H642 V461.5 H643 V456.5 H645 V458 H646 V460 H647 V462 H648 V463.5 H649 V465 H650 V466 H651 V469 H652 V475.5 H653 V475 H655 V474.5 H657 V474 H659 V474.5 H661 V474 H662 V473 H663 V472 H664 V471.5 H665 V470.5 H666 V470 H667 V469 H668 V468.5 H669 V470 H670 V472 H671 V474 H672 V475.5 H673 V477 H674 V478 H675 V479.5 H676 V480.5 H677 V481 H678 V482 H679 V482.5 H680 V481.5 H681 V480 H682 V479 H683 V477 H684 V475.5 H685 V474 H686 V472.5 H687 V471.5 H688 V470.5 H689 V469.5 H691 V469 H692 V468.5 H694 V468 H695 V468.5 H697 V468 H698 V466.5 H699 V467 H700 V468.5 H701 V469.5 H702 V470 H704 V470.5 H705 V471 H706 V471.5 H707 V472 H708 V472.5 H709 V473 H710 V473.5 H711 V474 H712 V474.5 H714 V475 H715 V475.5 H716 V475 H719 V474.5 H721 V474 H722 V473 H723 V471 H724 V469 H726 V469.5 H727 V470 H728 V470.5 H729 V471 H730 V471.5 H731 V472 H732 V474 H733 V477 H734 V482 H735 V483 H736 V483.5 H737 V482.5 H738 V481 H739 V479.5 H740 V478.5 H741 V477 H742 V476 H743 V475 H744 V474 H745 V473 H746 V494.5 Z" fill="#222d3b"/>
<rect x="80" y="450.84" width="1.2" height="32.56" fill="#0d1217" opacity="1"/>
<rect x="109.7" y="452.03" width="1.1" height="17.57" fill="#0d1217" opacity="1"/>
<rect x="171" y="471.19" width="1" height="17.81" fill="#0d1217" opacity="1"/>
<rect x="179.1" y="472.06" width="0.6" height="17.94" fill="#0d1217" opacity="1"/>
<rect x="199.4" y="472" width="4.3" height="19" fill="#0d1217" opacity="1"/>
<rect x="212" y="471.07" width="1.2" height="18.93" fill="#0d1217" opacity="1"/>
<rect x="221" y="465.16" width="1" height="15.84" fill="#0d1217" opacity="1"/>
<rect x="323" y="464.49" width="1.6" height="25.51" fill="#0d1217" opacity="0.5"/>
<rect x="352.3" y="451.86" width="1.7" height="37.14" fill="#0d1217" opacity="1"/>
<rect x="357.8" y="459.13" width="1.1" height="29.87" fill="#0d1217" opacity="1"/>
<rect x="363.2" y="464.98" width="0.8" height="24.02" fill="#0d1217" opacity="1"/>
<rect x="376.4" y="457.65" width="1.1" height="30.35" fill="#0d1217" opacity="1"/>
<rect x="583.2" y="408.39" width="1.3" height="58.61" fill="#0d1217" opacity="1"/>
<rect x="13" y="495" width="1" height="8.7" fill="#222c3a"/>
<rect x="96" y="495" width="1" height="8.7" fill="#222c3a"/>
<rect x="178" y="495" width="1" height="8.7" fill="#222c3a"/>
<rect x="253" y="495" width="1" height="8.7" fill="#222c3a"/>
<rect x="335" y="495" width="1" height="8.7" fill="#222c3a"/>
<rect x="417" y="495" width="1" height="8.7" fill="#222c3a"/>
<rect x="491" y="495" width="1" height="8.7" fill="#222c3a"/>
<rect x="573" y="495" width="1" height="8.7" fill="#222c3a"/>
<rect x="655" y="495" width="1" height="8.7" fill="#222c3a"/>
<rect x="738" y="495" width="1" height="8.7" fill="#222c3a"/>
<path d="M8.6,512.65 V504.05 H7.6 L5.4,505.65 V506.85 L7.35,505.65 V512.65 Z" fill="#97a8be"/>
<text x="9.38" y="512.65" font-size="12.4" fill="#97a8be">2</text>
<text x="16.46" y="512.65" font-size="12.4" fill="#97a8be">.</text>
<path d="M26.6,512.65 V504.05 H25.6 L23.4,505.65 V506.85 L25.35,505.65 V512.65 Z" fill="#97a8be"/>
<text x="27.58" y="512.65" font-size="12.4" fill="#97a8be">2</text>
<g transform="translate(35.5,503)" fill="none" stroke="#97a8be" stroke-width="1.05"><path d="M2.5,0.75 H9.75 V10.6 H7.2"/><path d="M2.5,0.75 V6.2 Q2.5,9.3 0.35,10.9"/><path d="M2.5,3.7 H9.75 M2.5,6.65 H9.75"/></g>
<text x="74.68" y="512.65" font-size="12.4" fill="#97a8be">2</text>
<text x="82.28" y="512.65" font-size="12.4" fill="#97a8be">2</text>
<text x="88.76" y="512.65" font-size="12.4" fill="#97a8be">.</text>
<path d="M98.8,512.65 V504.05 H97.8 L95.6,505.65 V506.85 L97.55,505.65 V512.65 Z" fill="#97a8be"/>
<text x="99.58" y="512.65" font-size="12.4" fill="#97a8be">2</text>
<g transform="translate(107.5,503)" fill="none" stroke="#97a8be" stroke-width="1.05"><path d="M2.5,0.75 H9.75 V10.6 H7.2"/><path d="M2.5,0.75 V6.2 Q2.5,9.3 0.35,10.9"/><path d="M2.5,3.7 H9.75 M2.5,6.65 H9.75"/></g>
<path d="M169.1,512.65 V504.05 H168.1 L165.9,505.65 V506.85 L167.85,505.65 V512.65 Z" fill="#97a8be"/>
<text x="169.96" y="512.65" font-size="12.4" fill="#97a8be">.</text>
<path d="M180.2,512.65 V504.05 H179.2 L177,505.65 V506.85 L178.95,505.65 V512.65 Z" fill="#97a8be"/>
<g transform="translate(181.2,503)" fill="none" stroke="#97a8be" stroke-width="1.05"><path d="M2.5,0.75 H9.75 V10.6 H7.2"/><path d="M2.5,0.75 V6.2 Q2.5,9.3 0.35,10.9"/><path d="M2.5,3.7 H9.75 M2.5,6.65 H9.75"/></g>
<path d="M240.1,512.65 V504.05 H239.1 L236.9,505.65 V506.85 L238.85,505.65 V512.65 Z" fill="#97a8be"/>
<text x="240.78" y="512.65" font-size="12.4" fill="#97a8be">0</text>
<text x="247.86" y="512.65" font-size="12.4" fill="#97a8be">.</text>
<path d="M258.2,512.65 V504.05 H257.2 L255,505.65 V506.85 L256.95,505.65 V512.65 Z" fill="#97a8be"/>
<g transform="translate(259.2,503)" fill="none" stroke="#97a8be" stroke-width="1.05"><path d="M2.5,0.75 H9.75 V10.6 H7.2"/><path d="M2.5,0.75 V6.2 Q2.5,9.3 0.35,10.9"/><path d="M2.5,3.7 H9.75 M2.5,6.65 H9.75"/></g>
<text x="317.18" y="512.65" font-size="12.4" fill="#97a8be">2</text>
<text x="324.38" y="512.65" font-size="12.4" fill="#97a8be">0</text>
<text x="331.26" y="512.65" font-size="12.4" fill="#97a8be">.</text>
<path d="M341.4,512.65 V504.05 H340.4 L338.2,505.65 V506.85 L340.15,505.65 V512.65 Z" fill="#97a8be"/>
<g transform="translate(342.5,503)" fill="none" stroke="#97a8be" stroke-width="1.05"><path d="M2.5,0.75 H9.75 V10.6 H7.2"/><path d="M2.5,0.75 V6.2 Q2.5,9.3 0.35,10.9"/><path d="M2.5,3.7 H9.75 M2.5,6.65 H9.75"/></g>
<text x="399.28" y="512.65" font-size="12.4" fill="#97a8be">3</text>
<text x="406.38" y="512.65" font-size="12.4" fill="#97a8be">0</text>
<text x="413.26" y="512.65" font-size="12.4" fill="#97a8be">.</text>
<path d="M423.4,512.65 V504.05 H422.4 L420.2,505.65 V506.85 L422.15,505.65 V512.65 Z" fill="#97a8be"/>
<g transform="translate(424.5,503)" fill="none" stroke="#97a8be" stroke-width="1.05"><path d="M2.5,0.75 H9.75 V10.6 H7.2"/><path d="M2.5,0.75 V6.2 Q2.5,9.3 0.35,10.9"/><path d="M2.5,3.7 H9.75 M2.5,6.65 H9.75"/></g>
<text x="475.28" y="512.65" font-size="12.4" fill="#97a8be">8</text>
<text x="482.66" y="512.65" font-size="12.4" fill="#97a8be">.</text>
<text x="489.18" y="512.65" font-size="12.4" fill="#97a8be">2</text>
<g transform="translate(496.5,503)" fill="none" stroke="#97a8be" stroke-width="1.05"><path d="M2.5,0.75 H9.75 V10.6 H7.2"/><path d="M2.5,0.75 V6.2 Q2.5,9.3 0.35,10.9"/><path d="M2.5,3.7 H9.75 M2.5,6.65 H9.75"/></g>
<path d="M559.1,512.65 V504.05 H558.1 L555.9,505.65 V506.85 L557.85,505.65 V512.65 Z" fill="#97a8be"/>
<text x="559.78" y="512.65" font-size="12.4" fill="#97a8be">8</text>
<text x="567.06" y="512.65" font-size="12.4" fill="#97a8be">.</text>
<text x="573.58" y="512.65" font-size="12.4" fill="#97a8be">2</text>
<g transform="translate(580.9,503)" fill="none" stroke="#97a8be" stroke-width="1.05"><path d="M2.5,0.75 H9.75 V10.6 H7.2"/><path d="M2.5,0.75 V6.2 Q2.5,9.3 0.35,10.9"/><path d="M2.5,3.7 H9.75 M2.5,6.65 H9.75"/></g>
<text x="636.38" y="512.65" font-size="12.4" fill="#97a8be">2</text>
<text x="643.58" y="512.65" font-size="12.4" fill="#97a8be">8</text>
<text x="650.76" y="512.65" font-size="12.4" fill="#97a8be">.</text>
<text x="657.28" y="512.65" font-size="12.4" fill="#97a8be">2</text>
<g transform="translate(664.9,503)" fill="none" stroke="#97a8be" stroke-width="1.05"><path d="M2.5,0.75 H9.75 V10.6 H7.2"/><path d="M2.5,0.75 V6.2 Q2.5,9.3 0.35,10.9"/><path d="M2.5,3.7 H9.75 M2.5,6.65 H9.75"/></g>
<path d="M723.4,512.65 V504.05 H722.4 L720.2,505.65 V506.85 L722.15,505.65 V512.65 Z" fill="#97a8be"/>
<text x="724.08" y="512.65" font-size="12.4" fill="#97a8be">0</text>
<text x="731.26" y="512.65" font-size="12.4" fill="#97a8be">.</text>
<text x="738.28" y="512.65" font-size="12.4" fill="#97a8be">3</text>
<g transform="translate(745.5,503)" fill="none" stroke="#97a8be" stroke-width="1.05"><path d="M2.5,0.75 H9.75 V10.6 H7.2"/><path d="M2.5,0.75 V6.2 Q2.5,9.3 0.35,10.9"/><path d="M2.5,3.7 H9.75 M2.5,6.65 H9.75"/></g>
<text transform="translate(761.4,47.95) scale(0.9,1)" font-size="12.3" fill="#97a8be">$</text>
<rect x="764" y="38" width="1" height="11.6" fill="#97a8be" opacity="0.9"/>
<text x="768.29" y="47.95" font-size="12.3" fill="#97a8be">0</text>
<text x="775.47" y="47.95" font-size="12.3" fill="#97a8be">.</text>
<text x="779.39" y="47.95" font-size="12.3" fill="#97a8be">0</text>
<text x="786.54" y="47.95" font-size="12.3" fill="#97a8be">3</text>
<text x="793.69" y="47.95" font-size="12.3" fill="#97a8be">5</text>
<text transform="translate(761.4,92.95) scale(0.9,1)" font-size="12.3" fill="#97a8be">$</text>
<rect x="764" y="83" width="1" height="11.6" fill="#97a8be" opacity="0.9"/>
<text x="768.29" y="92.95" font-size="12.3" fill="#97a8be">0</text>
<text x="775.47" y="92.95" font-size="12.3" fill="#97a8be">.</text>
<text x="779.39" y="92.95" font-size="12.3" fill="#97a8be">0</text>
<text x="786.54" y="92.95" font-size="12.3" fill="#97a8be">3</text>
<text x="793.58" y="92.95" font-size="12.3" fill="#97a8be">2</text>
<text x="800.84" y="92.95" font-size="12.3" fill="#97a8be">5</text>
<text transform="translate(761.4,136.95) scale(0.9,1)" font-size="12.3" fill="#97a8be">$</text>
<rect x="764" y="127" width="1" height="11.6" fill="#97a8be" opacity="0.9"/>
<text x="768.29" y="136.95" font-size="12.3" fill="#97a8be">0</text>
<text x="775.47" y="136.95" font-size="12.3" fill="#97a8be">.</text>
<text x="779.39" y="136.95" font-size="12.3" fill="#97a8be">0</text>
<text x="786.54" y="136.95" font-size="12.3" fill="#97a8be">3</text>
<text transform="translate(761.4,181.95) scale(0.9,1)" font-size="12.3" fill="#97a8be">$</text>
<rect x="764" y="172" width="1" height="11.6" fill="#97a8be" opacity="0.9"/>
<text x="768.29" y="181.95" font-size="12.3" fill="#97a8be">0</text>
<text x="775.47" y="181.95" font-size="12.3" fill="#97a8be">.</text>
<text x="779.39" y="181.95" font-size="12.3" fill="#97a8be">0</text>
<text x="786.43" y="181.95" font-size="12.3" fill="#97a8be">2</text>
<text x="793.58" y="181.95" font-size="12.3" fill="#97a8be">7</text>
<text x="800.84" y="181.95" font-size="12.3" fill="#97a8be">5</text>
<text transform="translate(761.4,225.95) scale(0.9,1)" font-size="12.3" fill="#97a8be">$</text>
<rect x="764" y="216" width="1" height="11.6" fill="#97a8be" opacity="0.9"/>
<text x="768.29" y="225.95" font-size="12.3" fill="#97a8be">0</text>
<text x="775.47" y="225.95" font-size="12.3" fill="#97a8be">.</text>
<text x="779.39" y="225.95" font-size="12.3" fill="#97a8be">0</text>
<text x="786.43" y="225.95" font-size="12.3" fill="#97a8be">2</text>
<text x="793.69" y="225.95" font-size="12.3" fill="#97a8be">5</text>
<text transform="translate(761.4,270.95) scale(0.9,1)" font-size="12.3" fill="#97a8be">$</text>
<rect x="764" y="261" width="1" height="11.6" fill="#97a8be" opacity="0.9"/>
<text x="768.29" y="270.95" font-size="12.3" fill="#97a8be">0</text>
<text x="775.47" y="270.95" font-size="12.3" fill="#97a8be">.</text>
<text x="779.39" y="270.95" font-size="12.3" fill="#97a8be">0</text>
<text x="786.43" y="270.95" font-size="12.3" fill="#97a8be">2</text>
<text x="793.58" y="270.95" font-size="12.3" fill="#97a8be">2</text>
<text x="800.84" y="270.95" font-size="12.3" fill="#97a8be">5</text>
<text transform="translate(761.4,314.95) scale(0.9,1)" font-size="12.3" fill="#97a8be">$</text>
<rect x="764" y="305" width="1" height="11.6" fill="#97a8be" opacity="0.9"/>
<text x="768.29" y="314.95" font-size="12.3" fill="#97a8be">0</text>
<text x="775.47" y="314.95" font-size="12.3" fill="#97a8be">.</text>
<text x="779.39" y="314.95" font-size="12.3" fill="#97a8be">0</text>
<text x="786.43" y="314.95" font-size="12.3" fill="#97a8be">2</text>
<text transform="translate(761.4,359.95) scale(0.9,1)" font-size="12.3" fill="#97a8be">$</text>
<rect x="764" y="350" width="1" height="11.6" fill="#97a8be" opacity="0.9"/>
<text x="768.29" y="359.95" font-size="12.3" fill="#97a8be">0</text>
<text x="775.47" y="359.95" font-size="12.3" fill="#97a8be">.</text>
<text x="779.39" y="359.95" font-size="12.3" fill="#97a8be">0</text>
<path d="M789.85,359.95 V351.35 H788.85 L786.65,352.95 V354.15 L788.6,352.95 V359.95 Z" fill="#97a8be"/>
<text x="790.43" y="359.95" font-size="12.3" fill="#97a8be">7</text>
<text x="797.69" y="359.95" font-size="12.3" fill="#97a8be">5</text>
<text transform="translate(761.4,403.95) scale(0.9,1)" font-size="12.3" fill="#97a8be">$</text>
<rect x="764" y="394" width="1" height="11.6" fill="#97a8be" opacity="0.9"/>
<text x="768.29" y="403.95" font-size="12.3" fill="#97a8be">0</text>
<text x="775.47" y="403.95" font-size="12.3" fill="#97a8be">.</text>
<text x="779.39" y="403.95" font-size="12.3" fill="#97a8be">0</text>
<path d="M789.85,403.95 V395.35 H788.85 L786.65,396.95 V398.15 L788.6,396.95 V403.95 Z" fill="#97a8be"/>
<text x="790.54" y="403.95" font-size="12.3" fill="#97a8be">5</text>
<g><circle cx="649.65" cy="382.55" r="13.75" fill="#4e4e53"/><g clip-path="url(#cg)"><path d="M638,397 C639.2,389 639.6,383 641.3,379.7 C642.6,377.2 645,376.3 650.7,375.9 C653,375.8 655.6,378.4 658.7,380.9 C660,382 660,383.2 659.2,384 C658,385.4 656,386.4 654.6,388.6 C653.2,391 652.2,393.6 650.5,397.5 Z" fill="#434348"/></g><circle cx="647.5" cy="379.4" r="2.3" fill="#55555a"/><circle cx="647.6" cy="379.4" r="1.3" fill="#3b3b40"/><circle cx="656.8" cy="382.3" r="0.8" fill="#58585d"/><path d="M651,385.4 H655.2" stroke="#3b3b40" stroke-width="0.6" fill="none"/></g>
<text x="667.7" y="386.2" font-size="13.2" textLength="68.4" lengthAdjust="spacing" fill="#525257" stroke="#525257" stroke-width="0.2">CoinGecko</text>
</svg>
</body></html>
